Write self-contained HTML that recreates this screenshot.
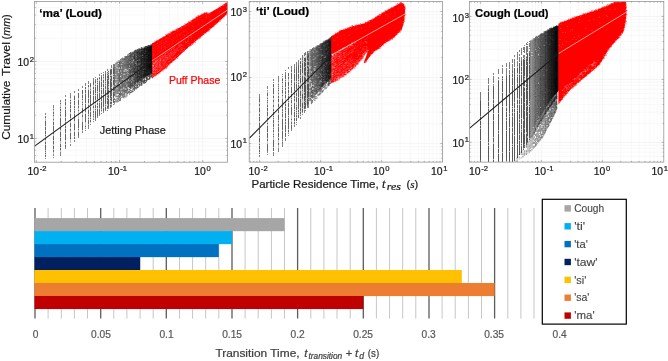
<!DOCTYPE html>
<html lang="en"><head><meta charset="utf-8"><title>Figure</title>
<style>html,body{margin:0;padding:0;background:#fff}body{width:668px;height:361px;overflow:hidden;font-family:"Liberation Sans", sans-serif}svg{display:block}</style></head>
<body>
<svg width="668" height="361" viewBox="0 0 668 361" font-family='"Liberation Sans", sans-serif'>
<defs>
<clipPath id="cp1"><rect x="34.6" y="1.5" width="192.8" height="160.7"/></clipPath>
<clipPath id="cp2"><rect x="249.2" y="1.5" width="193.3" height="160.6"/></clipPath>
<clipPath id="cp3"><rect x="469.4" y="1.5" width="194.4" height="160.6"/></clipPath>
</defs>
<path d="M61.3 1.5V162.2M76 1.5V162.2M86.4 1.5V162.2M94.5 1.5V162.2M101 1.5V162.2M106.6 1.5V162.2M111.4 1.5V162.2M115.7 1.5V162.2M144.5 1.5V162.2M159.2 1.5V162.2M169.6 1.5V162.2M177.7 1.5V162.2M184.2 1.5V162.2M189.8 1.5V162.2M194.6 1.5V162.2M198.9 1.5V162.2M34.6 155.5H227.4M34.6 150.3H227.4M34.6 145.9H227.4M34.6 141.9H227.4M34.6 115.2H227.4M34.6 101.7H227.4M34.6 92H227.4M34.6 84.6H227.4M34.6 78.5H227.4M34.6 73.3H227.4M34.6 68.9H227.4M34.6 64.9H227.4M34.6 38.2H227.4M34.6 24.7H227.4M34.6 15H227.4M34.6 7.6H227.4" stroke="#f7f7f7" stroke-width=".7" fill="none"/>
<path d="M36.3 1.5V162.2M119.5 1.5V162.2M202.7 1.5V162.2M34.6 138.4H227.4M34.6 61.4H227.4" stroke="#f1f1f1" stroke-width=".8" fill="none"/>
<g clip-path="url(#cp1)">
<linearGradient id="g1" gradientUnits="userSpaceOnUse" x1="103" y1="0" x2="152.6" y2="0"><stop offset="0" stop-color="#000" stop-opacity="0"/><stop offset=".55" stop-color="#000" stop-opacity="0.2"/><stop offset="1" stop-color="#000" stop-opacity="0.8"/></linearGradient>
<polygon points="103,73.9 106.8,71.2 110.6,68.1 114.4,65.1 118.3,62 122.1,59.3 125.9,56.8 129.7,54.2 133.5,52.2 137.3,50.4 141.2,48.9 145,47.7 148.8,46.5 152.6,45.2 152.6,72.7 148.8,75 145,77.6 141.2,80.2 137.3,82.9 133.5,85.8 129.7,88.8 125.9,91.7 122.1,94.6 118.3,97.2 114.4,99.8 110.6,102.9 106.8,105.9 103,109" fill="url(#g1)"/>
<path d="M45.5 117V157M53.5 108V154M60.5 102V152M65.5 99V147M70.5 97V143M74.5 95V139M78.5 93V136M82.5 90V131M85.5 87V128M88.5 85V126M90.5 84V123M93.5 82V120M95.5 81V118M97.5 79V116M99.5 78V114M101.5 77V112M103.5 75V111M105.5 74V110M107.5 73V108M108.5 71V107M110.5 70V106M111.5 69V105M113.5 68V103" stroke="#000" stroke-width="1" fill="none" opacity="0.24"/>
<path d="M45.5 113v1v1m0 1v1v1m0 3v1v1v1v1v1m0 1v1v1v1m0 1v1v1v1m0 1v1m0 3v1m0 2v1v1m0 1v1v1v1v1v1m0 1v1m0 1v1m0 1v1v1m0 1v1M53.5 105v1v1v1m0 1v1m0 2v1v1m0 1v1m0 3v1m0 2v1v1v1m0 1v1v1v1v1v1m0 1v1v1m0 2v1v1v1v1m0 1v1v1v1m0 2v1v1v1m0 1v1v1m0 2v1v1m0 1v1M60.5 100v1v1m0 1v1m0 3v1m0 1v1v1m0 1v1m0 1v1v1m0 2v1v1v1v1v1v1v1v1m0 1v1v1v1m0 2v1v1v1v1v1m0 1v1v1v1m0 3v1v1v1m0 1v1v1m0 2v1v1v1v1M65.5 95v1v1m0 2v1v1m0 1v1v1v1m0 2v1v1m0 1v1v1v1v1v1v1v1m0 1v1v1v1m0 1v1m0 1v1m0 1v1v1m0 1v1v1v1v1m0 1v1v1v1v1v1v1m0 2v1v1m0 1v1v1v1v1M70.5 93v1v1v1v1v1m0 2v1m0 1v1v1m0 1v1v1v1m0 1v1v1v1m0 2v1v1v1v1m0 1v1v1m0 2v1v1v1v1m0 2v1v1m0 2v1v1v1v1v1v1m0 5v1v1M74.5 91v1v1m0 3v1v1v1v1m0 1v1v1v1v1m0 1v1v1m0 1v1m0 1v1v1m0 1v1v1v1v1v1v1v1m0 3v1v1v1v1v1v1m0 2v1v1v1v1m0 1v1v1m0 1v1v1M78.5 89v1v1m0 2v1v1v1v1v1m0 2v1v1v1v1v1m0 1v1v1m0 2v1m0 3v1m0 4v1v1v1v1v1v1v1v1v1m0 1v1m0 2v1v1v1v1v1v1M82.5 86v1v1m0 2v1v1v1v1m0 1v1v1v1m0 1v1m0 2v1m0 1v1m0 3v1v1v1v1v1m0 2v1v1m0 5v1v1v1v1v1v1v1v1m0 1v1v1M85.5 83v1v1v1m0 1v1v1m0 1v1v1v1m0 1v1v1v1v1v1v1v1v1v1m0 1v1v1v1v1v1v1v1v1m0 2v1v1v1v1v1v1v1v1m0 4v1m0 1v1m0 1v1M88.5 81v1v1v1m0 1v1v1m0 3v1v1v1v1v1v1v1v1m0 1v1v1v1v1m0 2v1m0 1v1m0 2v1v1v1v1m0 1v1m0 2v1m0 1v1v1v1v1m0 1v1v1v1v1M90.5 83v1v1v1v1m0 2v1m0 1v1v1v1m0 1v1v1v1v1v1v1v1v1v1v1v1m0 1v1v1v1v1m0 1v1v1v1v1v1m0 1v1m0 1v1v1m0 2v1M93.5 78v1v1v1v1v1v1v1m0 2v1v1m0 1v1v1v1v1v1m0 1v1v1v1v1v1v1v1v1m0 2v1v1m0 3v1v1m0 1v1m0 1v1m0 2v1m0 1v1M95.5 77v1m0 1v1v1v1v1m0 2v1m0 1v1v1v1v1v1v1m0 1v1m0 1v1v1v1v1m0 2v1m0 2v1v1v1m0 1v1m0 1v1v1v1v1v1v1v1v1v1v1M97.5 78v1v1m0 1v1m0 1v1m0 1v1v1v1v1v1v1m0 1v1m0 1v1v1v1v1v1m0 1v1m0 2v1v1m0 1v1v1m0 1v1v1v1v1v1v1v1v1v1M99.5 74v1v1m0 1v1v1m0 2v1v1v1v1v1v1v1v1v1v1v1m0 1v1v1v1v1v1m0 1v1m0 1v1m0 1v1v1v1v1v1m0 1v1v1v1v1v1v1v1M101.5 73v1m0 1v1v1v1v1v1v1m0 1v1v1v1v1v1m0 1v1m0 1v1v1v1v1m0 1v1v1m0 1v1v1v1m0 1v1v1v1v1v1v1v1m0 1v1m0 2v1M103.5 72v1m0 1v1v1m0 1v1m0 2v1v1v1m0 1v1v1v1m0 1v1v1v1v1v1v1m0 1v1v1v1v1v1v1v1v1v1v1v1v1m0 1v1v1v1v1v1M105.5 71v1v1v1v1v1v1v1v1v1v1m0 1v1m0 1v1m0 1v1v1v1m0 1v1v1v1v1v1v1v1v1v1v1v1v1v1v1m0 1v1m0 1v1v1v1v1M107.5 69v1v1m0 1v1m0 1v1m0 1v1v1m0 1v1v1v1v1v1v1v1v1v1v1v1v1v1v1v1v1m0 1v1m0 1v1v1m0 1v1v1v1m0 2v1v1v1m0 1v1M108.5 71v1m0 1v1m0 1v1v1v1v1v1m0 1v1v1v1m0 1v1m0 2v1m0 1v1v1m0 1v1m0 1v1v1v1m0 1v1v1v1v1v1v1v1v1v1v1M110.5 69v1v1v1v1v1v1m0 1v1m0 2v1v1v1v1v1v1v1v1v1v1v1m0 1v1v1v1v1v1v1v1m0 1v1m0 2v1v1m0 1v1v1v1M111.5 65v1v1v1m0 1v1v1v1v1v1m0 2v1v1v1v1v1m0 1v1v1v1v1v1m0 1v1v1v1v1v1v1v1v1m0 1v1v1v1v1m0 1v1v1m0 1v1v1M113.5 64v1v1v1v1v1v1v1v1v1v1m0 1v1m0 1v1v1m0 1v1v1v1v1v1m0 2v1v1v1v1m0 1v1v1v1v1v1v1m0 1v1v1v1v1m0 1v1" stroke="#000" stroke-width="1" fill="none" opacity="0.48"/>
<path d="M114.5 64.3v1v.3v.3v.6v.3m0 .4v1v.1v.3m0 .1v1v.2v.8v1v.1v.1v.3v.7v.2v.1v.3v.9v.3v.5v.7m0 .5v1v.1v.7v.5v.7v.4v.1v.2v.3v.7v.8v.2m0 .3v1v.5v.5v.3v1v.6m0 .3v1v.6m0 .9v1v.4v.3m0 .7v1v.2v.7m0 .3v1v1v.2m0 2.5v1v.6m0 1v1v.7m0 .7v1M115.8 62.7v1v.7m0 .1v1m0 1v1v.6v.1v.3v.2v.3v.1v.3v.3v.3v.1m0 .3v1v.2v.4v.2v.8v.6v.4v.2m0 .9v1v.9v.4v.1v.1v.1m0 .2v1m0 .8v1v.6v.4v.6v.6m0 1.9v1v.6v.1v.5m0 .9v1v.2v.2v.1v.4v.4v.3v.5v.1v1v.5v.5v.6m0 .6v1m0 .4v1m0 2.5v1v.1m0 .1v1v1M117.1 61.6v1v.3v.3v.3v.5v.5m0 .9v1v.6v.1m0 1.3v1v.8v.5v.1v.2v.9v.2v.1v.5v.6v.4v.6v.5v.8v.1v.4m0 .6v1m0 .3v1m0 .7v1v.9m0 .9v1v1m0 .2v1v.1v.4v.5v.5v.6v.2v.2m0 .7v1v.7v.4v.1v.1v.4m0 .1v1v.6v.2v.4m0 2.1v1v.1m0 .8v1v.1m0 .5v1v.7v.7v.5M118.3 60.5v1m0 .4v1m0 1.1v1v.6v.3v.6v.1v.2v.3v.2v.2v.7m0 .5v1v.1m0 .8v1m0 1.3v1v.7m0 .1v1v.3v.1v.2v.1v.5v.9v.1v.6v.3v.2v.3v.1v.2v.4v.8v.8m0 .1v1v.4v.7v.9v.5v1v.2v.7m0 .2v1v.2v.3v.7v.1m0 .3v1v.8m0 .8v1v.5m0 1.2v1v.2v.2v1m0 .3v1m0 .1v1v.4m0 .5v1M119.5 60.5v1v.1v.1m0 .2v1v.1v.7v.5m0 .2v1v.3v.5v.2v.9m0 1.5v1v.9v.1v.6v.4v.8v.1m0 .6v1v.2v.3v.1m0 .2v1v.7v.2v.6v.8v.8v.9v.2v.7v.4v.1v.3v.1v.2v.3m0 1.9v1v.9v.4v.8v.3v.3v.4v.3v.6v.6v.8v.5v.4m0 1.3v1m0 .1v1m0 .5v1v.8v.1v.5m0 .6v1m0 .4v1M120.6 59.1v1v.1m0 .3v1v.4v.2v.1v.4v.2v.8v.4v.3m0 .3v1v.3v.2v.6v.2v1v.1v.7v.3v.3v1v.2m0 1v1v.2v.6v.2v.5v.1v.4v1v.2m0 1.5v1v.5v.6m0 .1v1v.3m0 .1v1v.9m0 .3v1m0 1.5v1v.5v.8v.8v.6m0 .5v1m0 .6v1v.9v.5v.4v.9v.2v.4v.7m0 .1v1m0 .4v1v.6v.7v.7M121.8 58.2v1v.4v.7m0 .4v1v.1v.7v.6v.1v.3v.1v.2v.1m0 .8v1v.2m0 .4v1m0 1.4v1v.8v.6v.1v.2v.3v.2v.8v.1v.4v.1m0 .8v1v.6v.6v.3v1v.6v.3v.5v.1v.2m0 .2v1v.9v.7v.3v.2v.7v.3m0 .1v1v.6v.3v1v.3v.2v.9v.7v.1m0 .7v1m0 .1v1m0 1.4v1v.9v.7v.2m0 1v1M122.8 57.6v1v.3m0 .2v1v.2m0 .4v1v.1m0 1.1v1v.8m0 .3v1v.6v.6v.6v.4m0 .1v1v.1v.2v.6m0 .2v1v.3v.5v.7v.4v.7v.1v.2m0 .2v1m0 .4v1m0 .1v1v.2v.4m0 1.4v1v.9m0 .3v1v.2v.1v.3v.1v.5v.4v.7v.3v.7v.8v.7v.3m0 .2v1m0 .5v1v.6m0 .6v1m0 .5v1v.9v.7v.2v1M123.9 58.3v1v.4v.9v.1v.4v.4v.1m0 .6v1v.4v.5v.2v.7v.3v.1v.1v.4v.1v.6v.7v.4v.8v.2v1v.1v1m0 .9v1v.7v.4m0 1v1v.3v.1v.2v.2v.1m0 .9v1m0 .2v1m0 .5v1m0 1.5v1v.1v.7v.1v.2v.9v.1v.6v.3v.3m0 1.8v1v.6v.9v.2v.7m0 .9v1v.5v1m0 .2v1v.4v.2v.6v.3M124.9 56.2v1v.3v.4m0 .2v1v1m0 .4v1v.1m0 .1v1v.1m0 .7v1v.2v.1v.3v1v.4v.1m0 .8v1v.1m0 3.2v1v.4v.2v.2m0 1.2v1v.3v.4v.2v.3v.4v.9v.4m0 1.1v1v.1v1v.1v.6v.3v.5v1m0 .3v1v.4v.1v.7v1v.8m0 .8v1v.1v.4v.4v.7v.2v.7v1v.2m0 .2v1v.2v.9v.2v.2v.2M125.9 56v1v.6v.9v.1v.3v.2v.3v.3v.4v.3v.1v.9m0 .2v1v.7v.3v.8v.5v.9v.2v.8v.5v.4v.6v.1v.3v.4m0 1.2v1m0 .3v1v.4v.2m0 .1v1v.3m0 .2v1m0 .6v1v.4v.5v.3m0 .5v1v.1v.2m0 .2v1v.4v.8m0 .9v1v.5v1m0 .2v1v.6v.1v.2m0 1.7v1v.7v.4v.2v.7m0 3.6v1M126.9 56v1v.1v.3v.3v.3v.5v.8m0 .2v1v.5v.7v.3m0 .1v1v.1v.3v.2v.7v.6v.2m0 .1v1v.1v.7v.1v.7m0 .6v1m0 2.1v1v.6v.1m0 .6v1v.2v.5v.1v.1v.9v.2m0 .9v1v.6v.3v.5v.5m0 1.3v1v.5v.4v.5m0 2.3v1v.2v.2v1v.1v.1v.7v.1m0 .3v1v.7v.7m0 .1v1v.1m0 .1v1v.4v.7v.3M127.8 54.3v1v.4v.1v.5v.1v.1m0 .1v1m0 .3v1v.4v.2m0 .8v1v.1v.4v.8v.1v.3v.4v.2m0 .3v1v.9v.2v.1v.1m0 .2v1v.3v.7v.4v.6v.5m0 .8v1v.2m0 1.5v1m0 1.8v1v.1m0 .1v1v.1v.1v.3v.1v.9v1v.2v.7v.4v.5v.6m0 .2v1v.1m0 .2v1v.9m0 2.1v1v.9v.6m0 .9v1v.8M128.7 53.6v1m0 1.2v1v.3m0 .2v1v.4m0 .2v1v.5v.9v.1v.9v.3v.3v.3v.1v.1v.4v.7v.3v.3v.2v.1v.3v1v.1v.3v.1v.4v.5m0 .5v1m0 .8v1v.2m0 .4v1m0 .8v1v.3v.6v.3v1v.3v.2v.8v.9m0 1.9v1v.1v.1v.5v.1v.3v.2v.3v.1v.1v.7m0 .3v1m0 .1v1m0 3.9v1v1M129.6 53v1v.2v.2m0 .4v1v.1v.6v.4v.2m0 .4v1v.3v.1v.6v.3m0 .3v1v.1v.2v.1v.1m0 1v1v.7v1v.2m0 1.4v1m0 1v1v.5v.1v.4v.2v.7v.8v.3v.3v.6v.4v.1m0 .4v1v.6v.7v.1m0 .6v1m0 .2v1v.9v.6m0 .6v1v.1v.3v.3m0 .1v1m0 .3v1v.7m0 .2v1m0 1v1m0 .5v1v.4v.3m0 .2v1m0 .2v1M130.5 52.2v1v.8v.6m0 .2v1v.6v.5m0 .2v1m0 .3v1m0 .4v1v.2m0 .5v1v.9v.3m0 .6v1v.8m0 .1v1v.1v.2v.3v.6v.3m0 .7v1v.2v.2v.6v.1v.5v.1v.6v.3v.5v.2v.1v.2m0 .3v1v.1v.8v.6v.3v.6v.4v.7m0 .4v1m0 .6v1v1v.5m0 .1v1v.4m0 .1v1v.7v.1v.6v.2v.2v1v.1v.4m0 .7v1m0 1.2v1M131.3 52.6v1m0 .1v1v.7v.3v.3v.8v.2v.2v.3v.4v.8v.2v.2v.7v.3m0 .2v1v.1v.3v.2v.2m0 .3v1v.4v1v.4v.1v.2m0 .1v1v.7v.1m0 .1v1m0 .4v1v.1v.1v.1v.2v.1v.9v.2v.6m0 .1v1m0 1.1v1v.3v.2v.2v.3v.1v.4v.6v.3m0 .4v1m0 .3v1v.9m0 1.5v1v.2v.7v.3v.8m0 .3v1m0 .4v1m0 1.8v1v.2m0 .3v1M132.2 51.8v1v.7m0 .1v1v.2v.7v.3m0 .1v1v.2m0 1.4v1v.5v.1v.8v.9m0 1.6v1v.2v.1v.3v.8v.2v.4v.2v.2v.1v.2v.1v.6v.3v.6m0 .4v1v.3v.2m0 .4v1v.4v.1m0 .1v1v.5v.1v.1m0 .3v1v.2v.8v.1v.1v.6m0 2.5v1v.2v.7m0 .2v1v.4m0 .1v1v.2v.5v.9v.5v.2m0 .1v1m0 1.7v1m0 .3v1v.5M133 51.8v1v.1m0 .2v1m0 .2v1m0 .6v1v.4v.2v.2v.2v.1v.4v.4m0 .3v1v.1m0 1.9v1v.2v.2v.8m0 .6v1v.3v.5m0 .2v1v.1v.9v.6v.5v.2v.1v.7v.5v.4v.3m0 .1v1m0 .8v1v.1v.4v1v.5v.2m0 .7v1v.1v.6v.1m0 1.7v1v.2v.1v.3m0 .3v1v.4v.4v.5v.6v.3m0 1.1v1v.2m0 .4v1m0 .6v1M133.8 51.3v1v.2v.2m0 .4v1v.4m0 .9v1v.8v.5v.2v.5v.7m0 2v1m0 .2v1m0 .2v1v.1v.4m0 .3v1v.4m0 .3v1v.2v.6v.7v.6v.9v.1v.4v.2v.1v.6v.6m0 1v1v.8v.1v.4v.1v.6v.1v.1v.2v.2v.1v.1v.1v.3m0 1v1m0 .2v1v.6v.1m0 .5v1m0 1.4v1v.6v.1v.1v.8m0 .4v1m0 .1v1M134.5 50.4v1v.1v.2v.2v.2v.5v.4v.1m0 .5v1v.5v.8v.7v.2v.3v1v.1v.5v.1v.8v.7v.4v.6v.2m0 .9v1v.7v.2v.5v.2v.3v.2v.3v.3v.5m0 1.2v1v.4v1v.4m0 .3v1v.4m0 .1v1v.2v.1v.4v.3v.4m0 1.8v1m0 .9v1v.8v.1v.2m0 .9v1v.7v.5m0 .5v1m0 .7v1v.9v1m0 .5v1v.6M135.3 50v1v.6v.5v.1v.4v.5m0 .5v1v.1v.4v.3m0 .4v1v.1v.5v.1m0 .1v1m0 .1v1v.2v.5v.1v.9m0 .1v1v.3m0 1.2v1v.8v.2v.1v1v.9v.3v.1v.3v.7m0 .8v1v.9v.3v.6v.3m0 .7v1v.9v.1v.1v.1v.5m0 .5v1v.3v.6v.1v.1m0 .2v1v.9v.5v1v.8v.1v.7m0 .2v1v.7m0 .7v1v.8M136 49.4v1v.6v.5v.1v.1v.2v.2v.8v.4v.3v.1v.4v.4m0 .7v1m0 1.4v1v.5v.3v.2v.3v.5v.5v.5m0 1.1v1m0 .7v1m0 .7v1v1v.1v.8v.6v.1v.4v.1m0 .4v1v.3v.2v.5v.7v.2m0 .3v1v.4v.9v.9v1v.6v.2v1m0 .3v1m0 .2v1m0 .2v1m0 1.4v1m0 1.1v1m0 .8v1M136.8 49.9v1v.1v.6v.8v1v.4v.5v.1v.5v.2v.2m0 .1v1m0 .6v1v.4v.1m0 .6v1v.1v.4v.2m0 .5v1v.3v.1v.1v.6m0 1.4v1v.3v.1v.4v.1v.8m0 .9v1v.3v.4v.3v.3v.8v.4v.8v.1v.1v.8v.3v.3m0 .3v1v.8v.2m0 .4v1v.2m0 .1v1v.7v.3v.3v.5v.7m0 2.2v1m0 .1v1v.7v.7v.4v1M137.5 49.2v1v.2v.5v.1v.2v.1m0 .6v1v.5v.6v.2m0 .5v1m0 .4v1v.2v.4m0 .2v1v.2v.8m0 1.1v1v.8v.2v.7v.2v.1v.3v1m0 .7v1v.1v.3v.4v.3v.3v.3v.8v.2v.1v1m0 1.3v1v.6v.1v.2v.3v.1v.9v.1v.2v.4v1m0 .1v1m0 .3v1v.4v.6v1v.6v.6v.5m0 .2v1m0 .7v1v.4m0 .4v1M138.2 48.8v1v.6v.1m0 .3v1v.3v.9v.1m0 .2v1v.7v.7v.1v.7v.1v.1v1v.5v.5v.4v.7m0 .5v1v.1v.4v.6v.2v.6v.7m0 1v1v.5v.5v.8v.3v.2v.9v.1v.5v.1v.5v.4v.3m0 .4v1m0 .2v1v.8v.8v.2m0 .6v1v.4v.2v.3v.7m0 .5v1v.5v.6v.6m0 .1v1m0 .4v1v.9m0 1.6v1M138.9 48.4v1v.7v.1v.1v.7v.1v.2v.1v.1v.3v.1v.1v.3v.1v.1v.3m0 .2v1v.7m0 .8v1v.2v.7v.3v.1m0 .2v1v.4v.9v.1v.8v.7v.4v.8v.2m0 1v1v.3v.2v.7v.1v.2v.3m0 2.1v1v.9m0 .3v1m0 .6v1v.1v.2v1v.8v.2v.3v.6m0 .3v1v.2v.2v.1v.9v.2v.4m0 .3v1m0 1.6v1m0 1.4v1M139.6 48.4v1v.4v.1v.1v.5v.4v.3v.3m0 .6v1v.9v.5v.1v.2v.1v1v.3m0 .6v1v.7v.1v.1m0 2.5v1v.4v.5v.2v.3v.1m0 1.1v1v.2v.1v.5v.1v.3v.3v.8v.3v.6m0 1.8v1v.9v.5v.8v.6v.3m0 1.1v1v.7v.5v.4v.2v.5m0 .3v1m0 1.5v1m0 .5v1v.7v.9M140.2 48.9v1v.3v.1v.5m0 1v1v.1m0 .3v1v1v.2m0 1v1v.3v.9v.5v.1v.4v.9v.3v.6v.1v.4v.6m0 1.8v1v.3v1v.1v.1v.4m0 .1v1v.2v.9v.7v.1v.2v.2v.5v.7v.1v.5v1v.1v.5v.8v.1m0 .1v1v.5m0 .6v1v.3m0 .8v1m0 .5v1v.5v.2v.7m0 .5v1v.2v.4v.6M140.9 47.7v1m0 .3v1m0 1.1v1v.1m0 .1v1v.2v.4v.5v.6m0 .1v1v.2v.1v.8v.5v.2v.4v.4v.1m0 .1v1v.7v.7v.2v.8v.7v.2v.7v.1v.9v.3v.9v.4v.6v.4v.8v.9v.2m0 .8v1v.2v.4v.2v.1v.6v.7m0 .2v1v.3m0 .1v1v.6v.6v.2v1m0 .2v1v.5v.1v.9v.4v.2m0 .8v1M141.5 47.3v1v.1v.1v.3v1v.5v.2m0 .3v1m0 .1v1v.7v.2v.2v.1v.1v.6v.3v.4v1v.2m0 .2v1v.1m0 .1v1v.6v.4v.7m0 .1v1v.1v.6v.6v.2v.4v.9v.6v.1v.3m0 1.2v1v.5v.4v.4v1m0 .4v1v.1v.3v.6v.1v.1m0 .7v1m0 .1v1m0 .1v1m0 .3v1v.2m0 1.6v1v.8v.6m0 .5v1v.3v.8v.9M142.1 47.3v1v.1v.1m0 .4v1m0 .7v1v.3v.7v.6v1v.4v.2m0 1.2v1v.2m0 .4v1v.1v.2v.3v.5m0 .3v1v.4m0 .9v1v.7v.2v.1v.1m0 .1v1v.3v.1v.1v.4v.2v.4v1v.4v.2v.2v.3v.5m0 .5v1m0 .5v1v.4m0 .1v1v.3m0 1.1v1v.6v.5v.9v.5v.4v1v.1v.3v.1v.8v.3v.8v1m0 .6v1M142.8 47.9v1v.2v.4m0 .2v1v.3v.9v.4v.2v.3m0 .4v1v1m0 .8v1m0 .6v1v.4v.6v.4v.3v.4v.1v.5v1v.6v.2v.2v.4v.5v.1v.5m0 .9v1v.2v.1v.1v.5v.3v.3v.3v.2v.2v.8v1v.1v.3m0 .2v1v.2m0 1.1v1v.8m0 .1v1v.3m0 2.6v1v.3v.2v.3v.6M143.4 48.6v1v.7m0 .6v1v.2v.4v.6v.3v.1v.9v.9m0 .2v1v.7v.3v.9v.5v.7v.1v.1v.5v.4m0 .2v1v.3v.4v.4v.3v.2v.4v.5v.6v.4v.3v.7v.2v.2v.2v.4m0 .8v1m0 .8v1v.1m0 1.3v1m0 .4v1v.6v.1v.4v.3v.2v.1v1v.7m0 .1v1v.1m0 1.1v1v.3v.8v1M144 46.7v1v.9v.7v1v.9v.1v.3v.3v.5v.3v.4v.6m0 .2v1v.2v.5v.6v.9v.1m0 .6v1v.1v.1v1v.5v.3v.7m0 .8v1m0 .2v1v.1v.1v.2m0 .9v1v.3v.1v.6v.7m0 1.3v1v.4v.3v.1v.2v.4v.2v.3v1m0 .7v1v.1v.9v.7m0 3.1v1m0 .1v1v.9M144.5 47.5v1v.1v.7v.2v.1v.5v.2v.9v.8v.8m0 1.1v1v.5v.7v.1v.2v.4v.5v.2v.3v.2v.6m0 .2v1v1v.6v.5v.2m0 .8v1v.2v.3v.2v1v.6v.3v1v.4v.2m0 .6v1v.9v.9v.3m0 .4v1v.3v.2v.6v1v.1v.7v.7v1v.4v.3v.3v.8v.9v1v.5m0 .6v1M145.1 46.4v1v.8v.8v.1v.1v.1v.6v.8v.5v.2v.2v.2v.1v.6v.6m0 .4v1v.2v.1v.7v.4v.2m0 .4v1v.4v.1v.1v.9v1v1v.7m0 .5v1v.2v.2v.6v.3v.2v.3v.9v.2v.1m0 1.2v1v.2v.1v.1m0 .8v1v.4v.1v.9m0 .2v1v.4v.4v.8v.5v.3v.4m0 4.4v1m0 .7v1v.1M145.7 46v1v.9v.5v.1v.4v1m0 2.4v1v.4v.1v.7v1v.5v.4v.2v.1m0 .6v1v.2v.7v.1v.3m0 .2v1v.1v.4v.5v.2m0 .2v1v.3v.5m0 .2v1m0 .1v1v.1v.6v.4v.4v.4v.3v.2v.2v.4v.1m0 .4v1v.2v.2v.1v.6v.5v.1v.9v.8v.6v.8v.9m0 .7v1m0 1.9v1m0 .8v1M146.3 46.1v1v.1v.1v.7v.4m0 .4v1v.9v.3v.2v.6v.9v.4v.1v.9v.7v.2m0 .8v1v.7v.2m0 1.1v1v.6v.1v.2m0 .1v1v.8m0 .3v1m0 .3v1v.4v1v.5v.9v.7v.3v.9v.1v.1v.6v.6v.1v.1v.2v.1v.7m0 1v1v.1v.6v.5v.8v1v.3v.2v.8v.9m0 .1v1m0 .2v1M146.8 45.8v1m0 1.2v1v.5v.1v.6v.1v.3v.8v.2m0 .5v1v.2v.1v.5v.2v.8v.1m0 .1v1v.5v.2v.3v.2v.1m0 .7v1v.3v.2v.3v.8m0 .3v1v.6v.2v.3v.3v.1m0 .3v1v1m0 .4v1v.4v.3v.3v.1m0 .8v1m0 .3v1v.3v.4v.1v.1v.1v.4v.1m0 .8v1v.8v.3m0 1.6v1v1m0 .7v1M147.3 46v1v.1v1v.5v1m0 .2v1v.4v.5v.1v.7v1v.5v.2v.4v.1v.2v.3m0 .8v1v.9v.6v.3m0 .1v1v.4v.8v.8v.5m0 .5v1v1v1v.4v.5v.8v.7v.3v.9v.9v.1v.4v.8v.1v.2m0 .3v1v.1v.7v.5v.9m0 .4v1v.6v1v.7v.1v.2v.2v.5M147.9 45.4v1v.5v.2v.7v.4v.1v.9v.7m0 .1v1v.4v.8v.2v.5v.4v.4v.2v.1v.7v.7v.7v.4v.4v.2v.9m0 .5v1v.4v.2v.3v.6v.5m0 1v1v.2v.3v.3v.4v.3v.6v.1v.6v.3v.9v.9v.1v.2v1v.3m0 .6v1m0 1.3v1v.1v.9m0 .1v1v.1m0 2.5v1M148.4 45.3v1v.1m0 .6v1v.6m0 .4v1v.8m0 .2v1m0 .2v1m0 .8v1v.5v.7v.1v.7m0 .2v1v.5v.3v.4v.1v.1v.5v1v.4v.3v.2v.5v.1v.1v.9v.2m0 .3v1v.3v.5v.5v.9v.1v.4v.4v.1v.6v.5m0 .9v1m0 .4v1v.1v.7v.6v.5v.5v.2v.1m0 .6v1m0 1.8v1M148.9 45.1v1v.1v.8m0 .2v1v.3m0 .1v1v.1v.1v.2v.2v.2v.3v.5v.1v.1v.5v.6v.4v.4m0 .6v1m0 .2v1m0 1.2v1v.2v.9v.1v.9m0 .1v1v1v.7v.2v.2m0 .6v1v.2v.5v.3v.4v.4v.5v.1v.5v.3v1v.4v.1m0 .4v1v.8v.1m0 1.1v1m0 .5v1m0 2.9v1M149.4 45v1v.2v.5m0 .5v1v.5v.9v.9v.6v.4v.2v.5v.9v.2v.1v.7v.6v.1v.2v.2v.3v.2v.1v.2v.7v.5v.6v.3v.1v.9v.6v.2v.9v.8v.4m0 1.4v1v.1v.6v.2v.9v1v.8v1v.2m0 .4v1v.1m0 1.6v1v.5m0 .6v1v.6m0 .1v1v.6v.4v.4v.7v.1M149.9 46.5v1v.4v.7v.1v.5v.1m0 .1v1v.6v.1v.4v.3v.2v.1v.1v.4m0 .7v1v.5v.1v.6v.5v.6m0 .3v1v.1v.3v.2v.6m0 .4v1m0 .3v1m0 1.2v1v.3v.1v.8v.3m0 .5v1v.6v.4v.3m0 .3v1v.5v.3m0 .1v1v.1v.4m0 1.1v1v.2v.2v.4v.8v.9m0 .6v1v.7v.3M150.4 45v1v.1v.1v.6v.8v.1v.5m0 .2v1v.1m0 .2v1v.2v.3v.7v.1v.1v.3m0 .2v1v.1v.3v.2m0 1.2v1v.7v.6v.9v.3v.6v.8v.6v.7v.5m0 .2v1v.8v.3v.4v.3v.4v.7v.1v.2v.4v.6v.6v.3v.6v.4v.1v.6v.1m0 1.4v1m0 1.7v1m0 .5v1v.2v.6M150.9 44.3v1m0 .8v1v.3v.7v.5v.3m0 .1v1v.5v.7v.3v.1v.2v.9v.1m0 .2v1v.7v.3v.3v.1v.6v1v.2v.7v.3m0 .9v1v.4v.4m0 .4v1v.1v.8v.8v.2v.1v.5v.1v.7v.1v1v.2v.7v.7m0 .9v1m0 .3v1v.9v.1v.7v.1m0 .1v1v.4v.2v.1v.1M151.4 44.2v1v.2v.2v.2v.5v.7v.9v.6v.1v.8v.3v.5v.1m0 .2v1m0 .7v1v.5v.5v.5v.2v.2v.9v.2v.3v.8v.1v.4v.5v.8v.3v.1v.3v.4v.6v.7v.2v.5m0 2v1v.3v.3v1m0 .1v1v.5v1v.4v.3m0 .3v1v.4v.2v.6m0 .7v1m0 .9v1v.4v.2v.6M151.9 45.1v1v.8v.1v.1v.1v.6v.3v.1m0 .3v1v.8v.4v.1v.7m0 .3v1m0 .2v1v.3m0 .4v1v.2v.4v.3v.3v.2v.4v.1v.3v.1v.2v.9v.4m0 .8v1v.1v.8v.4v.3v.2m0 .2v1m0 1.4v1v.2m0 .6v1m0 .2v1m0 .6v1v.6v.1v.9v1v.6v.5v.5v.2v.2v.2v.1v1M152.4 44v1v.1v1v.1v.1v1v.1v.2v.8v.1v.3v.7v.2m0 3v1v.2v.1v.1v.3v.1v.5v.4v.5v.7v.7v.3v.3v.8v.3m0 1v1m0 .4v1v.7v.6v.5v1v.4v.3v.6v.6v.1v.4v.4m0 1v1v.2v.9v.1v.1v.6v.2m0 .1v1v.3v.8m0 .6v1m0 .3v1v.9v.1" stroke="#000" stroke-width="0.9" fill="none" opacity="0.72"/>
<polygon points="152,43.5 161,38.2 171.6,31.8 182.1,26.2 192.6,19.8 199,15.8 204,13.2 206.5,12.2 208.5,13.6 217.2,8.6 227.6,2.3 229,1.6 229,13 227.6,13.6 222,18.8 217.2,23.3 211,28.7 200.5,37.3 190,45.8 179.5,55.5 169,65 162.7,70.6 152,78.3" fill="#f00"/>
<path d="M152.4 42.9v.6M154.5 40.8v.6M155.3 75.8v.6M156 40.7v.6M156.3 75.3v.6M156.8 39.7v.6M157.2 40v.6M158.3 73.9v.6M158.9 38.7v.6M159 73v.6M160 73.1v.6M160.4 38.2v.6M163.1 70.9v.6M163.3 36.1v.6M163.5 69.8v.6M164.7 69.3v.6M165.5 67.9v.6M165.8 34.3v.6M166 67.8v.6M166.2 34.5v.6M166.3 33.8v.6M166.4 67.7v.6M166.4 68.1v.6M166.8 67v.6M167.1 66.9v.6M167.3 66.6v.6M167.6 66.2v.6M167.9 33.4v.6M168.6 33.3v.6M169.1 65.4v.6M170.2 31.6v.6M171.2 31v.6M171.7 62.3v.6M172.6 61.8v.6M172.8 30.3v.6M174.4 60.5v.6M174.9 59.6v.6M175.1 29v.6M175.2 59.4v.6M177 28.5v.6M177 57.7v.6M177.1 28.4v.6M177.5 58.1v.6M177.9 57.5v.6M178.2 56.5v.6M181.6 26.2v.6M181.7 26.1v.6M181.7 26.1v.6M183.7 51.4v.6M184 51.5v.6M184.6 23.6v.6M185.3 23.7v.6M187.6 47.8v.6M188.5 21.2v.6M188.8 21.1v.6M189.7 45.8v.6M190.2 45.9v.6M190.5 45.3v.6M190.7 20.4v.6M191.1 45.3v.6M191.3 45.2v.6M192.4 44.2v.6M192.5 43.5v.6M192.6 19.5v.6M192.6 44.2v.6M192.8 18.6v.6M193.4 42.8v.6M193.4 42.8v.6M194.1 18.5v.6M194.2 18.2v.6M194.4 42.4v.6M195.3 42.1v.6M195.6 41.8v.6M195.8 17.4v.6M196.2 16.4v.6M196.2 17.1v.6M196.4 17.1v.6M196.7 16.4v.6M197.9 15.4v.6M197.9 16.1v.6M198.1 15.2v.6M198.7 15.1v.6M199.1 38.5v.6M199.3 38.6v.6M200 38.1v.6M200.4 14.7v.6M200.4 37.5v.6M201 37.3v.6M201.5 13.6v.6M202.8 13.5v.6M203.7 34.4v.6M204.3 12.5v.6M204.4 12.4v.6M205.8 33.4v.6M207.4 12.1v.6M207.9 31.1v.6M208.4 13v.6M208.9 31.1v.6M209 12.4v.6M209.4 30.1v.6M213.7 26.2v.6M214.2 26.5v.6M216.6 23.6v.6M217.9 22.5v.6M218.9 6.6v.6M219.6 20.9v.6M220.2 21.2v.6M220.3 20.5v.6M220.6 5.7v.6M223.1 4v.6M223.1 18.3v.6M223.8 3.8v.6M224.1 16.8v.6M224.2 4.1v.6M224.3 16.3v.6M225.3 3.2v.6M225.3 3.2v.6M225.3 3.3v.6M226 2.2v.6M226.3 2.6v.6M227.3 13.8v.6M227.4 14.3v.6M228.7 1.1v.6M229 8.7v.6M229.2 8v.6M229.5 4.2v.6M229.5 6v.6M229.6 1.7v.6M229.6 3.8v.6M229.8 7.4v.6" stroke="#f00" stroke-width="0.7" fill="none" opacity="0.8"/>
<path d="M152.4 76.5v.5M153.3 76.3v.5M153.7 42.4v.5M154.1 42.1v.5M154.8 75.7v.5M155.8 74.7v.5M158.2 40.4v.5M161 37.9v.5M161.9 70.4v.5M163.3 69.5v.5M163.9 69v.5M164.2 36.2v.5M164.6 36.4v.5M165.2 35.8v.5M166.7 34.5v.5M166.9 65.1v.5M166.9 65.7v.5M168.4 64.7v.5M168.6 34.4v.5M169.1 33.7v.5M169.9 63.7v.5M170 33v.5M170 63.2v.5M170.4 33.3v.5M170.9 62.8v.5M171.4 31.9v.5M172.5 61.3v.5M174.6 30.1v.5M174.9 30v.5M175 58.2v.5M175.1 30.4v.5M175.5 30.3v.5M175.9 29.4v.5M176.7 29.7v.5M177.5 29.1v.5M181 53.5v.5M181.2 26.9v.5M181.3 27.2v.5M181.8 26.1v.5M184.7 25.5v.5M184.9 24.4v.5M185.2 49.6v.5M185.8 24.9v.5M187.9 23.2v.5M188.2 22.2v.5M188.5 46.9v.5M189.2 46.2v.5M190.3 21.2v.5M190.3 21.3v.5M191 21.7v.5M194.5 41.8v.5M194.6 40.6v.5M194.9 18.3v.5M195.4 18.5v.5M196 39.4v.5M198.8 38.4v.5M199.2 37.5v.5M199.8 15.3v.5M200.6 14.8v.5M201.3 36.1v.5M204.2 33.8v.5M204.3 33.6v.5M204.6 33v.5M205.3 33v.5M207.3 13v.5M207.3 13.1v.5M209 13.8v.5M209.9 29.3v.5M210 28.1v.5M210.2 13.4v.5M210.2 28.4v.5M212.4 11.2v.5M214.2 25.5v.5M214.9 9.7v.5M214.9 23.8v.5M216.1 23.4v.5M217.2 8.3v.5M217.3 8.8v.5M219.6 20.7v.5M219.9 20.1v.5M220.7 7v.5M223.2 4.9v.5M223.5 5.2v.5M225.8 3.7v.5M226.9 13.3v.5M227.2 13.6v.5M228.3 2.6v.5M228.3 3.4v.5M228.3 4.5v.5M228.3 5.1v.5M228.5 13.4v.5M228.6 11.1v.5M228.7 5.9v.5" stroke="#fff" stroke-width="0.6" fill="none" opacity="0.6"/>
<path d="M153 65.1v.6M153 67v.6M153 71.9v.6M153 74.7v.6M153 74.9v.6M153.1 65.2v.6M153.1 65.4v.6M153.1 65.5v.6M153.1 66.5v.6M153.1 67.8v.6M153.1 71.6v.6M153.2 70.3v.6M153.2 70.4v.6M153.3 65.2v.6M153.3 65.5v.6M153.3 66.3v.6M153.4 62.4v.6M153.5 68.7v.6M153.6 64.4v.6M153.6 65.8v.6M153.7 63.1v.6M153.7 63.3v.6M153.8 62.7v.6M153.8 65.2v.6M153.8 68.2v.6M153.8 68.8v.6M153.8 72.1v.6M153.9 68.1v.6M154 69.3v.6M154 70.1v.6M154 71.9v.6M154.1 72.1v.6M154.2 74.6v.6M154.3 63v.6M154.4 69v.6M154.5 63.2v.6M154.7 67.4v.6M154.8 62.6v.6M155.3 72.1v.6M155.4 61.6v.6M155.4 61.9v.6M155.6 69.5v.6M155.7 67.4v.6M155.7 70.2v.6M155.9 66.4v.6M156 60.2v.6M156.2 62v.6M156.2 72.7v.6M156.3 64.9v.6M156.4 61.2v.6M156.4 69v.6M156.5 66.3v.6M156.6 61.2v.6M156.8 63.9v.6M156.9 62.3v.6M156.9 64v.6M157 66.3v.6M157.1 69.7v.6M157.2 59.9v.6M157.5 60.2v.6M157.5 63.2v.6M157.7 70.9v.6M158 66.7v.6M158.3 59.1v.6M158.3 61.5v.6M158.6 71.5v.6M158.8 71.4v.6M158.9 62.9v.6M159 60.8v.6M159 66.7v.6M159 69.7v.6M159.4 64.2v.6M159.5 63.9v.6M159.6 62.4v.6M159.6 65.6v.6M159.7 58.1v.6M159.8 61.6v.6M159.9 60.5v.6M159.9 65.3v.6M160 67.5v.6M160 70v.6M160.5 59.2v.6M160.5 60v.6M160.7 59.2v.6M160.8 65.4v.6M160.9 58.5v.6M160.9 60.4v.6M161.4 67.5v.6M161.8 56.2v.6M161.8 66.8v.6M162 66.8v.6M162 68.7v.6M162.2 57.2v.6M163.1 62.7v.6M163.3 60.5v.6M163.4 59.2v.6M163.6 56.1v.6M163.7 60.4v.6M164.9 54.8v.6M165.4 62.4v.6M165.6 53.3v.6M165.6 56.8v.6M166.1 59.6v.6M167 57.3v.6M167.2 57v.6M167.2 57.3v.6M167.3 55v.6M167.4 64v.6M167.7 58.5v.6M168 52.6v.6M168 58.7v.6M168.1 53v.6M168.3 61.4v.6M169.7 55.6v.6M170.5 57.7v.6M170.6 52.1v.6M170.7 52.6v.6M171.3 50.7v.6M171.5 49.7v.6M171.6 59.7v.6M171.7 58v.6M171.8 53.8v.6M171.9 53.5v.6M173.7 48.7v.6M174.2 48.7v.6M174.8 56.8v.6M175.1 52.6v.6M175.7 52.3v.6M176 49.8v.6M176.8 50.1v.6M177.1 47.9v.6M177.3 49.4v.6M177.4 55.1v.6M178.8 45.6v.6M178.8 54.1v.6M179.7 44.9v.6M179.8 45.4v.6M180.1 44v.6M180.1 46.4v.6M180.3 50.7v.6M181 44.1v.6M181 51.1v.6M181.3 47.5v.6M181.4 43.8v.6M181.4 48.8v.6M181.7 49.3v.6M181.8 45v.6M181.9 44.8v.6M182.3 50.9v.6M182.8 48.7v.6M183 41.7v.6M183.1 45.5v.6M183.1 50.1v.6M183.4 51.6v.6M184.2 48.2v.6M185.4 40.9v.6M185.4 42v.6M186.4 42.3v.6M186.7 41.7v.6M187.8 41.1v.6M188 40.9v.6M188 43.6v.6M188.2 45.1v.6M188.5 37.7v.6M188.5 39.6v.6M189.1 43v.6M190.9 37.4v.6M191.5 39v.6M191.8 35.8v.6M191.9 43v.6" stroke="#fff" stroke-width="0.55" fill="none" opacity="0.55"/>
<path d="M153 55.4v.6M154 54.4v.6M157.2 43.2v.6M158.5 46.5v.6M160.4 51.2v.6M161 41.9v.6M161.4 47.6v.6M164.4 42.8v.6M164.6 46.6v.6M165.8 47.1v.6M166 37.8v.6M166.5 41v.6M176.5 34.6v.6M180.2 34.5v.6M183.5 31v.6M185.1 35.1v.6M191.1 21.6v.6M192.1 25.7v.6M192.9 26.2v.6M192.9 30.6v.6M198.3 23.7v.6M201.2 24.8v.6M202.1 20.7v.6M205.9 16.7v.6M206.4 17.2v.6M206.7 15.3v.6M209 16.1v.6M210.7 19.2v.6M219.3 11.3v.6M224.9 5.2v.6" stroke="#fff" stroke-width="0.55" fill="none" opacity="0.4"/>
<path d="M152.6 62.5L175.5 46.6M152.6 64.2L166.2 54.6M152.6 65.9L179.8 46.5M152.6 67.6L175.7 50.9M152.6 69.2L182.4 47.4M152.6 70.9L175.2 54.1M152.6 72.6L165.6 62.8M152.6 74.3L176 56.4M152.6 76L167.3 64.6" stroke="#fff" stroke-width="0.45" fill="none" opacity="0.55" stroke-dasharray="1.2 .7 .6 .5 2 .6"/>
<path d="M153 46L208.1 12.9M153 48.8L170.3 38.1M153 51.5L187.6 29.4M153 54.2L174.2 40.3M153 57L193.2 29.8" stroke="#fff" stroke-width="0.4" fill="none" opacity="0.3" stroke-dasharray="2 1 1 .6"/>
<path d="M34.6 146.1L152.3 60.6" stroke="#1a1a1a" stroke-width="1.05" fill="none" opacity="1.0"/>
<path d="M152.3 60.6L227.5 10" stroke="#fff" stroke-width="0.7" fill="none" opacity="0.85"/>
</g>
<path d="M36.3 162.2v-2.2M36.3 1.5v2.2M61.3 162.2v-1.2M61.3 1.5v1.2M76 162.2v-1.2M76 1.5v1.2M86.4 162.2v-1.2M86.4 1.5v1.2M94.5 162.2v-1.2M94.5 1.5v1.2M101 162.2v-1.2M101 1.5v1.2M106.6 162.2v-1.2M106.6 1.5v1.2M111.4 162.2v-1.2M111.4 1.5v1.2M115.7 162.2v-1.2M115.7 1.5v1.2M119.5 162.2v-2.2M119.5 1.5v2.2M144.5 162.2v-1.2M144.5 1.5v1.2M159.2 162.2v-1.2M159.2 1.5v1.2M169.6 162.2v-1.2M169.6 1.5v1.2M177.7 162.2v-1.2M177.7 1.5v1.2M184.2 162.2v-1.2M184.2 1.5v1.2M189.8 162.2v-1.2M189.8 1.5v1.2M194.6 162.2v-1.2M194.6 1.5v1.2M198.9 162.2v-1.2M198.9 1.5v1.2M202.7 162.2v-2.2M202.7 1.5v2.2M34.6 155.5h1.2M227.4 155.5h-1.2M34.6 150.3h1.2M227.4 150.3h-1.2M34.6 145.9h1.2M227.4 145.9h-1.2M34.6 141.9h1.2M227.4 141.9h-1.2M34.6 138.4h2.2M227.4 138.4h-2.2M34.6 115.2h1.2M227.4 115.2h-1.2M34.6 101.7h1.2M227.4 101.7h-1.2M34.6 92h1.2M227.4 92h-1.2M34.6 84.6h1.2M227.4 84.6h-1.2M34.6 78.5h1.2M227.4 78.5h-1.2M34.6 73.3h1.2M227.4 73.3h-1.2M34.6 68.9h1.2M227.4 68.9h-1.2M34.6 64.9h1.2M227.4 64.9h-1.2M34.6 61.4h2.2M227.4 61.4h-2.2M34.6 38.2h1.2M227.4 38.2h-1.2M34.6 24.7h1.2M227.4 24.7h-1.2M34.6 15h1.2M227.4 15h-1.2M34.6 7.6h1.2M227.4 7.6h-1.2" stroke="#8a8a8a" stroke-width=".6" fill="none"/>
<rect x="34.6" y="1.5" width="192.8" height="160.7" fill="none" stroke="#8e8e8e" stroke-width=".75"/>
<path d="M250.3 1.5V162.1M253.8 1.5V162.1M256.9 1.5V162.1M278.1 1.5V162.1M288.8 1.5V162.1M296.4 1.5V162.1M302.3 1.5V162.1M307.2 1.5V162.1M311.3 1.5V162.1M314.8 1.5V162.1M317.9 1.5V162.1M339.1 1.5V162.1M349.8 1.5V162.1M357.4 1.5V162.1M363.3 1.5V162.1M368.2 1.5V162.1M372.3 1.5V162.1M375.8 1.5V162.1M378.9 1.5V162.1M400.1 1.5V162.1M410.8 1.5V162.1M418.4 1.5V162.1M424.3 1.5V162.1M429.2 1.5V162.1M433.3 1.5V162.1M436.8 1.5V162.1M439.9 1.5V162.1M249.2 158.2H442.5M249.2 153.8H442.5M249.2 150H442.5M249.2 146.6H442.5M249.2 123.7H442.5M249.2 112.1H442.5M249.2 103.9H442.5M249.2 97.5H442.5M249.2 92.2H442.5M249.2 87.8H442.5M249.2 84H442.5M249.2 80.6H442.5M249.2 57.7H442.5M249.2 46.1H442.5M249.2 37.9H442.5M249.2 31.5H442.5M249.2 26.2H442.5M249.2 21.8H442.5M249.2 18H442.5M249.2 14.6H442.5" stroke="#f7f7f7" stroke-width=".7" fill="none"/>
<path d="M259.7 1.5V162.1M320.7 1.5V162.1M381.7 1.5V162.1M249.2 143.6H442.5M249.2 77.6H442.5M249.2 11.6H442.5" stroke="#f1f1f1" stroke-width=".8" fill="none"/>
<g clip-path="url(#cp2)">
<linearGradient id="g2" gradientUnits="userSpaceOnUse" x1="296" y1="0" x2="331.8" y2="0"><stop offset="0" stop-color="#000" stop-opacity="0"/><stop offset=".55" stop-color="#000" stop-opacity="0.28"/><stop offset="1" stop-color="#000" stop-opacity="0.72"/></linearGradient>
<polygon points="296,64 298.8,61.5 301.5,57.8 304.3,54.7 307,52.7 309.8,50.9 312.5,49.2 315.3,47.6 318,45.9 320.8,44.3 323.5,42.6 326.3,41 329,39.3 331.8,37.5 331.8,77.5 329,80.1 326.3,82.9 323.5,85.6 320.8,88.7 318,91.9 315.3,95.1 312.5,98.1 309.8,101.1 307,104.5 304.3,108.1 301.5,111.9 298.8,116.7 296,121" fill="url(#g2)"/>
<path d="M259.5 99V154M267.5 91V151M273.5 84V151M278.5 82V148M282.5 79V143M285.5 75V137M288.5 73V133M291.5 70V129M294.5 69V125M296.5 67V121M298.5 65V118M300.5 62V115M302.5 60V112M304.5 58V110M305.5 57V108M307.5 56V106M308.5 55V104" stroke="#000" stroke-width="1" fill="none" opacity="0.24"/>
<path d="M259.5 94v1v1v1v1v1v1v1v1m0 2v1v1m0 2v1v1v1v1m0 2v1v1m0 1v1v1v1v1m0 2v1v1v1v1m0 1v1v1v1v1v1v1m0 2v1m0 1v1v1v1v1m0 2v1m0 1v1v1v1m0 1v1v1m0 1v1m0 1v1v1M267.5 86v1v1v1m0 1v1m0 2v1v1v1m0 2v1m0 1v1m0 1v1m0 2v1v1m0 1v1v1v1m0 1v1v1v1v1m0 2v1v1m0 3v1m0 2v1v1v1v1v1v1m0 1v1v1v1v1v1m0 1v1v1m0 3v1v1v1v1v1v1v1v1v1m0 1v1M273.5 79v1v1m0 1v1m0 1v1v1v1m0 1v1v1v1v1v1v1m0 2v1v1m0 2v1v1m0 3v1v1m0 2v1v1m0 1v1v1v1m0 1v1m0 1v1m0 1v1v1v1m0 1v1v1v1m0 1v1m0 1v1v1m0 2v1m0 1v1m0 3v1v1v1v1v1v1v1m0 1v1v1v1m0 1v1v1v1v1M278.5 76v1v1v1v1v1v1m0 2v1m0 1v1m0 1v1m0 1v1m0 2v1m0 2v1v1m0 1v1v1v1m0 2v1v1v1m0 1v1m0 1v1v1v1m0 2v1v1v1v1v1m0 1v1m0 2v1v1m0 1v1v1v1v1v1m0 1v1v1v1v1m0 1v1v1m0 3v1v1m0 3v1v1v1v1M282.5 74v1m0 1v1m0 1v1v1v1m0 1v1m0 3v1m0 1v1m0 1v1v1v1m0 2v1m0 3v1v1v1v1v1m0 1v1v1v1m0 1v1v1m0 1v1m0 1v1v1v1m0 2v1v1v1v1v1v1v1v1v1v1v1m0 1v1v1v1v1v1v1v1v1m0 1v1m0 1v1v1v1v1v1M285.5 70v1m0 1v1v1v1v1v1v1v1m0 1v1m0 1v1v1v1v1v1m0 1v1v1m0 1v1v1v1m0 1v1v1v1m0 3v1v1m0 1v1v1m0 1v1v1v1m0 1v1m0 1v1v1v1v1v1m0 1v1v1m0 1v1v1m0 1v1v1v1v1v1v1v1m0 1v1v1v1v1m0 1v1v1v1M288.5 67v1v1m0 4v1v1v1m0 1v1v1m0 3v1v1v1v1m0 1v1v1m0 1v1v1v1m0 1v1m0 1v1v1m0 1v1m0 1v1m0 1v1v1v1v1m0 1v1v1v1v1v1v1v1m0 1v1m0 1v1v1v1v1v1v1v1v1v1v1v1m0 1v1v1m0 1v1m0 1v1M291.5 66v1v1v1v1v1v1m0 1v1v1v1v1v1v1m0 1v1v1v1m0 1v1m0 2v1v1v1v1v1v1m0 1v1v1v1m0 1v1m0 1v1v1v1m0 2v1m0 1v1v1v1v1v1v1v1v1m0 4v1m0 2v1v1m0 1v1v1v1v1v1v1M294.5 64v1v1v1v1v1v1v1v1v1m0 1v1v1v1v1v1v1v1m0 1v1v1v1v1v1v1v1v1v1m0 2v1v1m0 1v1v1m0 1v1v1m0 2v1v1v1v1v1v1m0 1v1m0 1v1v1v1v1v1m0 1v1v1v1m0 1v1v1m0 1v1v1M296.5 62v1v1v1v1v1v1v1v1v1v1v1v1v1v1v1v1v1v1v1m0 1v1m0 1v1v1v1v1v1m0 2v1m0 1v1v1v1m0 1v1v1v1v1v1m0 3v1m0 1v1v1v1m0 1v1m0 1v1m0 1v1v1m0 1v1v1v1m0 1v1m0 1v1M298.5 60v1v1v1v1v1v1v1v1v1v1v1v1v1m0 1v1v1v1v1v1m0 1v1m0 2v1m0 1v1v1m0 1v1v1v1v1v1v1v1v1v1m0 1v1v1v1v1v1v1v1v1v1v1v1m0 1v1v1m0 1v1m0 1v1v1v1M300.5 58v1v1m0 1v1v1v1m0 1v1v1v1m0 1v1v1v1v1v1v1m0 1v1m0 1v1v1v1v1v1m0 3v1v1v1m0 2v1v1v1v1v1m0 1v1m0 1v1v1v1v1v1v1v1v1m0 1v1v1v1m0 1v1v1m0 1v1m0 1v1v1M302.5 55v1v1v1v1v1m0 1v1m0 1v1v1v1v1v1v1v1v1v1v1m0 3v1v1v1v1v1v1m0 1v1v1m0 1v1v1v1m0 1v1m0 3v1v1v1v1v1m0 4v1v1v1v1v1m0 1v1v1v1v1m0 1v1M304.5 53v1v1v1m0 2v1v1v1m0 1v1v1v1v1v1m0 1v1v1v1v1v1v1v1m0 2v1v1v1v1v1v1v1v1v1v1v1v1v1v1v1m0 1v1v1m0 1v1v1v1v1v1m0 1v1v1v1m0 1v1v1v1m0 1v1v1v1M305.5 52v1v1v1m0 3v1v1v1v1m0 1v1v1v1m0 1v1v1v1v1m0 1v1v1v1v1m0 2v1v1v1m0 1v1v1m0 1v1v1v1v1v1v1v1v1v1v1v1v1v1m0 1v1m0 1v1m0 1v1v1v1v1v1v1m0 1v1M307.5 51v1v1v1v1v1v1v1v1v1m0 2v1v1v1m0 1v1v1m0 2v1m0 1v1v1v1v1v1m0 1v1m0 1v1v1m0 2v1v1v1v1v1v1m0 1v1v1v1v1v1v1v1m0 1v1v1v1v1v1v1v1v1v1M308.5 51v1m0 1v1v1v1v1v1m0 1v1v1m0 1v1v1v1m0 2v1v1v1v1v1v1v1m0 1v1v1v1v1v1v1v1m0 2v1v1v1v1v1v1v1v1v1v1v1v1v1m0 1v1m0 1v1m0 1v1v1v1v1v1v1" stroke="#000" stroke-width="1" fill="none" opacity="0.48"/>
<path d="M310.1 49.3v1m0 .2v1v.4v.3v.2v.2v.1v.9v.1v.6v.5v.2v.2v1m0 .5v1v.7v1v.2v.2v.3v.2v.6m0 .6v1v.9v.2v.8v.5v.2v.4v.1v.3v.3v.1v.3m0 2v1v.4v.1v.1v.6v.5m0 .4v1v.2v.6v.2m0 .4v1v.8v.4v.3v.2v.2m0 .6v1m0 .4v1v.1m0 1.7v1v.7v.2v.1v.2v.5v.2v.2v.1v.8v.1v.7m0 1.5v1v1v.2m0 1.4v1v.8v.6v.4v.8v.7v.9m0 1v1v.6v.6v.3v.7M311.4 49.2v1v.9m0 .3v1v.1v.1v.1v.2m0 .4v1v.2v1v.8v.2v.8v.4v.3m0 .2v1v.7v.4m0 .3v1v.6v.2m0 .2v1v.2v.3v.6v.1v.8v.4m0 .6v1v.9v.9v.3v.9v.1v.5v.2m0 1.4v1v.4v.3v.1m0 .4v1v.9v.6v.5v.2v.1v.2m0 .2v1v.2v.3v.3v.7v.1m0 .8v1m0 4.2v1v.5v.2v.2v.1v.5v.6v.1m0 .3v1v.7v.6v.4m0 1.5v1v.6v.8v.3m0 1.7v1v.3v.7v.3v.4v.6v.4v.2v.8M312.6 48v1m0 .1v1v.6m0 .8v1v.1v.5v.1m0 .1v1v.5v.6v.7v.2v.7v.5v.4v.7v.7m0 .4v1v.2v.3v1v.1v.2v.7v.5v.6v.8v.7m0 .1v1v.6v.9v.1v.9v.7v.3v.3v.4v.2v.5m0 .2v1v.1v.1m0 .2v1m0 .6v1m0 .4v1v.4v.1m0 .7v1v.8v.5v.6v.9v.1v1m0 .3v1m0 1.2v1v.1v.2v.5m0 2v1v.9m0 .3v1v.2m0 .2v1m0 .3v1v.5m0 .1v1v1v.1m0 1.5v1m0 .2v1v.4v.2v.1M313.8 47.1v1v.2v1v.2m0 .2v1v.3m0 .3v1m0 .6v1v.3v.7v.5v.6v.2v.1v.1m0 .4v1v.5v.2v.4v.2m0 .6v1v.6v.8m0 .4v1v.2v.6m0 .1v1v.1v.6v.2v.9v.4v.6v.4m0 .8v1v.6v.7v.9v.1v.2v.5v.4v.5v.1v.5v.1m0 .4v1v.7v.1v.4v.1v.2v.8v.3v.1v.4v.8v.5v1m0 .9v1v.6v.3m0 1.8v1v.2v.7m0 1.2v1v.1v.9m0 .2v1m0 .4v1v.2v.2m0 1.1v1v.5v.7v.1m0 .8v1M314.9 47.7v1m0 1v1v.4v.9v.1v.8v.7m0 .1v1v.2v.2v.1v.6v.1v.1v.2v.3v.2v.2v.9v.4m0 1.1v1v.8v.2v.5v.8v.2v.1v.2v.4v.5v.1v.1v.4v.2v1v.2m0 1.2v1m0 2.9v1v.1v.8v.1m0 .1v1v.3m0 .5v1v.6v.2v.4v.4v.6v.2v.1v.1v.4v1m0 .3v1v.8v.9m0 .7v1v.3v.9v.6v.1m0 .3v1m0 .3v1v.4v.2v.4v.1v.3v.7v.2v.5m0 1.5v1m0 .2v1m0 .2v1v.2m0 .2v1m0 .1v1m0 .6v1M316 46.4v1v.3v.9v.3v.2v.6v.6v.2v.2m0 .5v1m0 .4v1v.3v.3v.4v.1v.2v.9v.1v.4v.1v.3v.1v.3v.2m0 .9v1v1v.5v.2v.1v.7v.4v.6v.1v.3v.1m0 .2v1v.1v.3v.5v.1v.5v.2m0 1.1v1v.9v.5v.4m0 .7v1v.7v.1v.6v.5m0 .6v1m0 1.2v1v.4v.8v.6v.1v.2v1v.1v.2v.3m0 1v1m0 .6v1v.4v.5v.3v1m0 1.1v1m0 .3v1v.9v.9v.4v.6v.2v.3m0 .1v1m0 1.4v1m0 .8v1M317 45.5v1v.9v.1v.5v.5v.1v.1v.6v.6v.8v.3m0 1.1v1m0 .1v1m0 .2v1v.3m0 .6v1v.2v.2v.2v.2v.1v1v.4v.6v.4v.2m0 .2v1v.4v.5v.4m0 .6v1m0 .7v1v.4v.2v.1m0 .2v1v.8v1v1v.5v.1v.7v.5v.8v.4v.5v.3v.1m0 .3v1v.4v.5v.6v.7v.6v.3v.9m0 .3v1v.2v.3v.2v.9v.7m0 .1v1v.4v.1v.4v.3m0 .8v1m0 .1v1m0 .4v1v1v.2v.4v.2v.8v.7m0 3.5v1M318 45.1v1v.7v.2v.1v.3v.2m0 .2v1v.2v.1v.1v.2v1v.3v.1v.4v.2v.7m0 .3v1v.5v.1v.5v.8m0 .9v1v.3v.3v.7v.8v.7v.7v.3v.1v.8v.6v.8v.7v.8v.1m0 .1v1v1v.5m0 .1v1v.2v.7v.9v1v.2v1v.7v.1m0 .1v1v.1v.1v.2m0 .3v1v.1v.4v.3m0 .9v1v.8v.2v.4v.1v.4v.3v.7v1v.3v.4v.3v.4m0 .9v1v1v.4m0 1.5v1m0 1.4v1m0 1.8v1v.9M319 45.4v1v.2v.4v.7m0 .4v1v.7v1v.1v.2v.5v.2v.4v.1v.1m0 .1v1v.7v1v.4v.2v1v.9v.4v.3v.2v1v.4v.3v.6v.2v.3v.1v.7v.3m0 .4v1v.5v.6m0 .3v1v.7m0 .9v1v.4v.5v.1v.1v.1m0 .5v1v.3v.3v.1v.2m0 .3v1m0 .2v1v.2v.7v.2v.3m0 1.3v1v.3v.4v.2m0 .1v1v.3v.7m0 .2v1m0 .7v1v.8v.5m0 1.3v1v.5m0 .8v1v1m0 2.1v1v.3v.2v.3M319.9 43.9v1v.5m0 .6v1v.4m0 .7v1v.3v.1v.8v.8v.5v.9v.2v.5m0 .1v1m0 .9v1v.3v.1v.9v.9v.6v.2v.4m0 .4v1v.4v.7m0 .4v1v.1v.2v.3v.3v.3v.2v.2v.1m0 .5v1v.1m0 .3v1v.3v.3v1v.4v.2v.3v.5v.3m0 .1v1v.2v.6m0 .9v1v.2m0 .1v1v.4v.2v.2v.7m0 .1v1v.1v.5v.7m0 3.3v1m0 .3v1v.1v.5v.4m0 .9v1v.9v.2v.2v.3v.3m0 .3v1m0 .4v1v.5v.8v.3M320.8 43.2v1v.3v.6v.8v.1v.5v.2v.6v.3v.8v.7m0 .7v1v.3v.6v.7v.1v.3v.3v.6v.2v.2v.2v.2m0 .2v1v.1v.2v.4v.1v.4v.1v.4v.9v.9m0 .6v1v.4m0 .6v1v.2m0 .3v1v.9m0 .2v1v.8v.4v.5v.3v.9v.7v.4v.6v.9v.1v.1v1v.4v.1v.2m0 1.6v1v.5v.6m0 .4v1v.7v.5v.1m0 1.8v1m0 .4v1v.7v.5m0 .2v1m0 .1v1v.3v.7v.5v.9v.1v.8v.6m0 .8v1M321.7 43.1v1v.4v.1v.6v.5v.3v.9v.9v.5v.8m0 .5v1v.7v.4v.8v.3v.4v.7v.1v.4v.1v.2v.3m0 1.5v1v.2v.3v.2v.2v.2m0 .5v1v.9v.1v.1v.8m0 .1v1v.9v.3v.8v.3v.5v.1v.1v.9v.4v.2v.2v1v.1v.2m0 1.5v1v.9v.1v.5v.6m0 .1v1v.2v.5m0 1.5v1v.1v.1v.6m0 1.1v1m0 1.3v1v.7v.8v.6v1v.4v.1m0 1.6v1v.7v.5m0 .9v1v.1M322.5 42.8v1v.7v.3v.8v.7v.6v.5v.1v.7v.4v.1v.6m0 .4v1v.4v.4v.4v.2v.1v.4v.6v.3v.1v.7m0 1.5v1v.9v.1v.8v.2v.2v.7v.9v.8v1v.2v.2v.6v.8v.4v.3v.5v.3v.6v.7v.3v.1v.3v.4m0 .6v1v.8m0 .4v1v1v.5v.2v.2v.6v.1v.1m0 .4v1m0 .5v1v.7v.3v1v.5v.2v.3v.1v.3v.6v.7m0 .6v1m0 .3v1v.4v.5v.5v.5m0 .5v1m0 2.2v1v.6v.1M323.3 41.6v1v.5v.2v.1v.6v.8v.6m0 .8v1v.7v.5v.6v.2v.2v.3v.3v.7v.4v.2v.2v.1v.1v.4v.3v.4v.2v.3v.4v.3v.2v.6v.5m0 .4v1v.1v.7v.7v.3v.5v.5v.1v.8v.3v.3v.8v.7v.3v.1v.1v.7v.3m0 .3v1v.5m0 .7v1m0 1v1v.1m0 .7v1m0 1v1v.5v.2m0 .5v1v.3m0 .1v1v.5m0 .3v1v.3v.4m0 1v1v.5v.6v.8v.7v.2v.1v.6v.1v.6m0 1.1v1m0 1.9v1v.8M324.1 40.8v1m0 .3v1v.2v.4v.2v.8v.3v.1v.3v.4v.5v.5v.6v.5m0 .3v1v.1m0 .1v1v.5v.4v.8v.3v.5v.5v.1v.5v1v.6v.3v1m0 1.1v1v.1v.1v.4v.7v1v.9v.3v.9v.3v.1v.1v.8m0 1.2v1v.7m0 .7v1v.4v.2v.9v1v.4v.6v.2v.8v.6v.2m0 .3v1v.8v.4m0 .6v1m0 .7v1v.7v.2m0 1.7v1v.5m0 .3v1v.4v1v.3v.6M324.9 40.8v1v.1v.3m0 .1v1m0 .4v1v.5v.1v.2m0 1v1v.1v1v.3v.2v.7v.6v.2v.5v.1m0 .4v1v.1v.4v.3m0 .8v1v.1m0 .2v1v.2m0 1.1v1v.6v.7v.3v1v.2v.2v.3v.9v.1v.1v.3v.7v.1v1v.8v.2v.1v.3v.6v.5v.1v.1v.1v.3v.9v.8m0 .6v1v.3v.3m0 .2v1v.1v.2v.4v.1m0 1v1m0 .8v1v.6v1v.4v.5v.1m0 1v1v.6m0 2.9v1m0 1.1v1v.3M325.6 40.2v1v.1v.4v.1v.7v.6v.3v.6m0 .4v1v.3m0 .5v1v.3v.1v.2v.2v.5v.3v.2v.4v.2m0 .3v1v.3v.8v.5v.6v.1v.4v.1v.2v.2v.6v.9m0 2.1v1v.2v.1v.1v.3v.4v.2m0 .7v1v.2v.5m0 .4v1v.3v.8v.7v.4m0 .9v1v.8v.4v1v.1v.1v.8v.3v.2m0 .3v1m0 .7v1v.6v.7v.4m0 .3v1v.1m0 .1v1v.5v.2v.3v.9v.4m0 2.7v1m0 .3v1m0 1.3v1M326.4 40v1m0 .3v1v.6v.6v.7v.2v.1v.4v.1v.1v.3v1v.7v.5v.1v.5v.1m0 1.5v1v1v.3v1v.3v.6v.7v.8v.3v.4v.5v.9v.4m0 .3v1v.9m0 .5v1v.3v.3m0 2.4v1v.5v.6v.2v.4v.1v.6v.5v.6v.1v.2v.3v.1v.1v.6v.4v.2v.3v.8v1v.8m0 .4v1v.5v.4v.1v.3v.8v.2v.2v.2v.7m0 .9v1v.4v1v.9v.2v.5v.1m0 3.7v1M327.1 39.2v1v.5v.1v.6v.6v.1v.4v.2m0 1.8v1v.7v.3v.3v.7m0 .1v1v.7v.1v.1v.7v.7v.7v1v.1v.2m0 .5v1v.6v.5v.6m0 .3v1v.8v.9v.1v.2v.7v1v.8v.1v.1v1v.1m0 .2v1v.4v.2v.5v.3v.9v.5v.4m0 .3v1v.9v.4v.2v1v.2v.5v.1v.8v.2v.2v.6v.5v.3m0 .6v1v.7v.3v.3v.3m0 .7v1v.5v.5v.6v.1m0 3.4v1m0 .6v1M327.8 40.4v1v.4v.1v.5v.3v.6m0 .1v1v.1v.1v.1v.3v.5v.1m0 .7v1v.2v.9v.2v.2v.8v.3v.1v.9v.4m0 .4v1v.4m0 1.2v1v.2v.5v.6v.4v.1v.7v.8v.3v.5m0 .1v1v.5v.5v.1v.5v.1m0 1.2v1v.1v.5v.4v.8v.2m0 .2v1v.4v.7v.1v.5v.1v.4v.1m0 2v1v.1v.7v.2v.1v.2v.2v1v.6v.6v.3m0 .5v1v.1m0 .5v1m0 .4v1v.3v.6m0 1.3v1M328.4 38.7v1v.9v.2v.4v.8v.7v.1v.7m0 .7v1v.3v.7v.5v.2v.6m0 .8v1v.1v.1v.6v.1v.1v.8m0 1v1v.7v.5v.2v.2v.1v.2v.6v.9v.5v.7v.3v.8v.2v.3m0 .7v1v.1v.1m0 .8v1v.1v.9v.3m0 1v1v1v1v.5v.6v.1v.1v.2v.9m0 .4v1v.6v.3v.7v.3m0 .5v1v.2v.5v.2v.2v.9v.3v1v.7m0 .4v1v.6v.7v.9v.8m0 .2v1m0 .1v1M329.1 38.7v1m0 .5v1v.3v.9v.4v.1v.7v.2m0 .2v1v.1v.1v.8v.5v.2v.5m0 .8v1v.2v.1m0 .8v1v.2v.8v.2m0 .2v1v.1v.6v.4m0 1v1v1v.6v.1v.8v.9v.1v.1v.1v.1v.8v.5m0 .2v1v.8v.7v.2v.2v.2v.1v.2v.9v.6v.2m0 .4v1v.5v.5v.8v.5v.4m0 .7v1v.3v.4v.1v.3v.3v.1m0 .9v1v.8v.2m0 .2v1v.3m0 1.1v1v.7v.5m0 1.1v1v.3m0 .1v1v.3M329.7 37.8v1m0 .6v1v.1v.6m0 .3v1v.4m0 .5v1v.2v.6v.6v.2v.9v.1m0 .3v1m0 .2v1v1v.2v.6v.5v1v.4v.3v.1v.6v.5v.5v.5v.3m0 .2v1m0 .7v1v.2v.7v.3v.2v.1v.8v.6v.6v.3m0 1.6v1v.1v.6v.7v.2v.2v.8v.2m0 .1v1m0 .1v1v1v.5v.5v.2v.4m0 .1v1v.2m0 .2v1m0 .9v1m0 .1v1v.3v.3v.7v.7m0 .3v1v.3m0 .1v1v.4v.8M330.3 37.1v1v.3v.1v.3v.6m0 1.4v1v.4v.8v.3v.9v.2v.8v.7m0 .2v1v.1v.2v.8v.8v.3v1v.3v.9v.6v.4m0 .6v1v.8v.2v.7v.9m0 .2v1v.1v.2v.3v.3v.1v.7m0 .2v1m0 1v1v.7v1m0 .1v1v.6v.2v.3v.5v.2v1v.5v.8v.1v.6v.6v.2v.4v.3v.4v.4v.1m0 2.5v1v.3v.4v.3m0 .2v1v.1v.6v.1v.7v.3v.4v.4m0 1.8v1M330.9 37.5v1m0 1.1v1v.2v.1m0 .5v1v.1m0 .3v1v.2v.2m0 .1v1v.3v.2v.1v.8v.2v.1v.3v.4v.2m0 .6v1v.3v.5v.1v.1v.9v.6v.1v.2v.1v.3v.6v.5v.3v.5v.2v.1v.9v1v.6v.1v.4v.5v.1v.3v.5v.3m0 .4v1v.4v.1v.1m0 .4v1v.3m0 1.1v1v.8m0 .5v1m0 .2v1v.1m0 .1v1v.1m0 .1v1v.4v.7v.2v.7v.3v.8v.1m0 .4v1v.8m0 .6v1m0 .7v1m0 .7v1v.2v.2v.7M331.5 36.5v1v.1v.8v.3v.4v.1v.5m0 .1v1m0 .2v1v.8v.2v.9v.1v.7v.1v.7m0 .4v1m0 .4v1m0 1.7v1v.3v.2v.2v.1m0 .1v1v.2m0 .6v1v.2v.2v.3v.8v.3v.2v.3v.8v1m0 .4v1v.1v1m0 .1v1v.1v.1v.3v.2v.3v.2v.3v.1v.6v.3v.6v.1m0 .2v1v.6v.5v.1v.2v.1v.3v.2v.3m0 .5v1v.8v.5m0 .3v1m0 1.7v1v.4m0 1.2v1v1v.9v.3m0 .1v1v.5v.1v.8" stroke="#000" stroke-width="0.9" fill="none" opacity="0.72"/>
<polygon points="331.2,36.2 340.8,30.3 345,29.2 351.3,26.6 364.5,23.2 373.7,18.2 385.5,11 397.4,4.4 401,2.8 403.3,3.3 405,6.6 405.2,14.4 404,22.2 401.6,30 393.4,38 385,43.3 378.2,49.2 374.4,51.2 371,55 366.6,61 364.7,63.2 363.7,62.6 365.3,58.5 368.6,49.8 365.5,54 361.6,60 356,66.2 350.5,71.3 345.4,75.3 338,80 331.2,83.3" fill="#f00"/>
<path d="M333.7 82.5v.6M335.1 81.2v.6M335.2 81.6v.6M335.3 32.8v.6M335.6 32.8v.6M335.9 81v.6M337.7 80.2v.6M338.2 80.3v.6M339.4 30.3v.6M339.6 79.4v.6M340.3 29.7v.6M341.8 29.7v.6M342.4 77.3v.6M343.5 28.9v.6M343.5 76.5v.6M344.2 75.8v.6M344.2 75.8v.6M345 28.1v.6M345.4 28.4v.6M345.5 74.9v.6M346.5 74.6v.6M347.1 27.2v.6M347.9 73.1v.6M347.9 73.3v.6M348.1 27.3v.6M348.8 72.7v.6M350 72.3v.6M350.1 26.3v.6M352.1 25.5v.6M352.2 25.4v.6M352.4 25.3v.6M354.7 68.1v.6M354.9 67.6v.6M355.2 24.6v.6M355.4 66.6v.6M355.8 25v.6M355.8 66.4v.6M356.6 24.2v.6M357.9 64.1v.6M358.6 24.2v.6M358.6 63.7v.6M360.5 23.6v.6M360.6 23.4v.6M361.9 59.2v.6M362.1 60.2v.6M363.3 57.2v.6M363.5 57.7v.6M364.4 55.4v.6M365.2 59.8v.6M365.2 60.1v.6M365.3 21.8v.6M365.8 21.9v.6M365.8 22v.6M365.8 62.1v.6M365.9 61.9v.6M366 61.4v.6M366.1 21.9v.6M366.5 56.7v.6M366.7 54.6v.6M366.8 61.3v.6M367 52v.6M367.3 51.4v.6M367.3 51.6v.6M367.6 52.2v.6M367.7 20.7v.6M367.7 51.4v.6M367.7 52.1v.6M368 51.6v.6M368.2 50.6v.6M368.2 51.1v.6M368.5 49.9v.6M369 20.3v.6M369.3 20.1v.6M372.4 18.1v.6M372.4 53.3v.6M372.4 53.6v.6M372.6 52.9v.6M373.6 52.2v.6M373.7 52.5v.6M374.8 51.5v.6M375.9 16.5v.6M376.5 50v.6M377.6 15.3v.6M379.1 48.4v.6M379.2 14v.6M379.2 14.4v.6M379.3 48.3v.6M379.7 14.1v.6M379.8 47.9v.6M380.1 47.3v.6M380.1 48v.6M380.9 46.6v.6M381.6 12.5v.6M382.4 12.5v.6M383.6 11.8v.6M383.6 45.3v.6M385.2 10v.6M385.4 10.5v.6M385.9 43.2v.6M388 8.8v.6M388.6 41.5v.6M388.7 8.7v.6M389.3 40.5v.6M390.1 39.9v.6M390.2 40v.6M391.3 7v.6M391.6 39.1v.6M391.9 7v.6M392.1 7v.6M392.2 38.6v.6M392.3 38.4v.6M392.5 39v.6M394.5 37v.6M394.8 36.5v.6M396.1 35.4v.6M396.6 4.3v.6M397.4 34v.6M397.5 3.3v.6M397.7 3.1v.6M399.3 32.1v.6M399.4 3.2v.6M400.2 2.8v.6M400.2 31.1v.6M400.3 32.1v.6M400.4 2.1v.6M400.7 2.1v.6M401.1 2.4v.6M401.2 30.2v.6M401.6 2.5v.6M403.8 24.8v.6M404.1 4.2v.6M404.3 21.3v.6M404.5 20.3v.6M404.7 17.2v.6M404.7 18v.6M404.7 18.8v.6M404.7 21.5v.6M404.8 17.2v.6M405 6v.6M405.1 15.4v.6M405.2 5.6v.6M405.5 6.9v.6M405.5 8.2v.6M405.5 8.7v.6M405.8 14.3v.6" stroke="#f00" stroke-width="0.7" fill="none" opacity="0.8"/>
<path d="M331.8 82.6v.5M333.8 35.3v.5M334.3 34.1v.5M334.4 34.6v.5M334.9 80.9v.5M336.4 32.8v.5M336.7 32.9v.5M337.7 32.3v.5M338.2 32.2v.5M338.3 79.3v.5M338.9 31.7v.5M341.8 76.5v.5M342 76.9v.5M342.5 29.6v.5M345.6 73.6v.5M346.1 73.5v.5M346.9 73.6v.5M347.1 73v.5M347.9 73.1v.5M351.2 26.7v.5M351.7 69.7v.5M352.5 67.8v.5M353.7 68.1v.5M354.2 26.4v.5M354.4 67.3v.5M355 25.4v.5M356.4 65.4v.5M358.8 62v.5M358.8 62.5v.5M359.1 62.5v.5M359.7 61.7v.5M360.7 24.6v.5M360.8 59.9v.5M362.8 61.6v.5M363.3 56.1v.5M363.6 59.6v.5M364 60.9v.5M364.2 59.9v.5M364.4 23.2v.5M364.7 54.7v.5M364.7 62.8v.5M364.8 58.2v.5M365.3 61.3v.5M365.7 61.5v.5M366 54.6v.5M366.2 52.4v.5M366.6 22.9v.5M367.4 50v.5M367.8 50.4v.5M368.3 49.9v.5M368.8 20.9v.5M368.8 56.8v.5M369.5 21v.5M370.6 54.6v.5M370.8 19.5v.5M372.2 19.5v.5M372.3 19.2v.5M372.5 18.6v.5M372.7 18.4v.5M372.9 51v.5M373.3 18.2v.5M374 18.2v.5M374.2 18.1v.5M376.1 49.6v.5M377.6 49.1v.5M379.1 14.9v.5M379.3 14.8v.5M379.3 47.9v.5M379.5 47.4v.5M379.9 15.2v.5M380.5 14.9v.5M380.6 45.6v.5M381 14.1v.5M384.2 12v.5M384.3 43.5v.5M384.3 43.6v.5M384.8 11.5v.5M385.9 41.4v.5M387.6 10v.5M389.2 39.2v.5M390.2 8.7v.5M391 7.7v.5M391.1 38v.5M391.3 39v.5M392.8 7.4v.5M392.8 7.5v.5M393 37.5v.5M393.9 6.6v.5M395.5 35.6v.5M396.3 5.4v.5M396.7 4.6v.5M397.3 33v.5M397.9 33.3v.5M398 4v.5M398.5 31.5v.5M400.1 3.1v.5M400.2 29.8v.5M400.3 30.3v.5M401.2 29.6v.5M401.7 3.6v.5M402.7 3.4v.5M402.7 23.4v.5M403.3 21.2v.5M403.6 21.5v.5M404.2 5.3v.5M404.2 16v.5M404.2 18.4v.5M404.4 15.9v.5M404.5 8.4v.5M404.5 17.5v.5M404.5 17.7v.5M404.6 6.5v.5M404.6 16.6v.5M404.6 17.9v.5M404.7 12.8v.5M404.8 6v.5M404.9 14.8v.5" stroke="#fff" stroke-width="0.6" fill="none" opacity="0.6"/>
<path d="M332 57.8v.6M332 57.8v.6M332 60.5v.6M332 70.8v.6M332 71.9v.6M332 72.7v.6M332 75.2v.6M332 77.7v.6M332 79.8v.6M332 82.7v.6M332.1 58.3v.6M332.1 59v.6M332.1 60v.6M332.1 61.1v.6M332.1 62.5v.6M332.1 62.5v.6M332.1 62.6v.6M332.1 66.4v.6M332.1 68.1v.6M332.1 72v.6M332.1 74.5v.6M332.1 75.5v.6M332.1 76.3v.6M332.2 67.7v.6M332.2 71.8v.6M332.2 73.3v.6M332.3 65v.6M332.3 70.5v.6M332.3 74.1v.6M332.3 75.9v.6M332.4 57.6v.6M332.4 59.4v.6M332.4 66.8v.6M332.4 67.1v.6M332.4 73.8v.6M332.4 74.4v.6M332.7 66.4v.6M332.7 78.4v.6M333.1 61.5v.6M333.1 65.5v.6M333.1 71.6v.6M333.2 66.7v.6M333.2 70.7v.6M333.2 74.2v.6M333.3 56.2v.6M333.3 56.4v.6M333.3 74.6v.6M333.4 60.2v.6M333.4 67.9v.6M333.5 57.1v.6M333.5 60.5v.6M333.6 59.6v.6M333.6 66.9v.6M333.6 70.1v.6M333.7 71.6v.6M333.8 61.9v.6M333.8 63.1v.6M333.8 70.1v.6M334 59.5v.6M334 67v.6M334 73.1v.6M334.1 61.3v.6M334.2 66.3v.6M334.2 67.4v.6M334.2 80.6v.6M334.3 67.3v.6M334.4 56.5v.6M334.6 67.3v.6M334.7 65v.6M334.8 64.2v.6M334.8 80.6v.6M334.9 74.9v.6M335 57.9v.6M335.1 71.3v.6M335.1 77.9v.6M335.2 56.2v.6M335.2 64.6v.6M335.5 59.6v.6M335.5 63.4v.6M335.5 71.3v.6M335.7 73.1v.6M335.7 78.2v.6M335.8 57.5v.6M335.8 73.3v.6M335.9 55.2v.6M335.9 69.5v.6M336 54.1v.6M336 64.3v.6M336.1 63.8v.6M336.1 74.2v.6M336.2 54.4v.6M336.2 68.5v.6M336.2 69.3v.6M336.3 56.5v.6M336.9 65.9v.6M337 55.7v.6M337 79.5v.6M337.1 70.3v.6M337.2 67.5v.6M337.5 73.7v.6M337.7 73v.6M337.7 74.2v.6M337.8 57.9v.6M337.9 65v.6M337.9 73.4v.6M338 55.9v.6M338.3 62.5v.6M338.3 73.3v.6M338.4 77.1v.6M338.5 60.1v.6M338.5 76.1v.6M338.6 58.1v.6M338.9 68.3v.6M339.1 55.7v.6M339.1 55.9v.6M339.1 64.1v.6M339.1 70v.6M339.3 56.2v.6M339.4 74.1v.6M339.5 63.7v.6M339.7 56.9v.6M340 53.3v.6M340 70.1v.6M340 73.2v.6M340.3 58.7v.6M340.4 59.1v.6M340.6 63.1v.6M340.6 68.9v.6M340.8 54.7v.6M340.9 67.6v.6M340.9 76.1v.6M341 56.3v.6M341.1 71.8v.6M341.1 77.6v.6M341.3 52.3v.6M341.3 65.4v.6M341.4 68.2v.6M341.4 73.6v.6M341.8 62.9v.6M341.9 58.6v.6M342.2 62.2v.6M342.5 60v.6M342.6 73.5v.6M343.1 65.3v.6M343.1 71.6v.6M343.3 60v.6M343.4 55.5v.6M343.4 67.4v.6M343.6 65.7v.6M343.7 53.3v.6M343.7 59.5v.6M343.7 71.3v.6M343.8 53.1v.6M343.9 52.5v.6M344.2 59.5v.6M344.2 71.2v.6M344.4 59.3v.6M344.6 65.5v.6M344.8 56.2v.6M344.8 66.3v.6M344.9 68.7v.6M345.3 62.5v.6M345.3 72.4v.6M345.4 57.3v.6M345.4 62v.6M345.7 63.2v.6M345.8 64.7v.6M345.8 70.4v.6M346.1 60.3v.6M346.4 63.2v.6M346.4 73v.6M346.5 61.5v.6M346.6 48.9v.6M346.6 62.3v.6M346.7 72v.6M346.8 68.8v.6M347.1 68.7v.6M347.2 61.9v.6M347.7 65.1v.6M347.8 64.9v.6M348 68.2v.6M348.1 54.5v.6M348.7 68v.6M348.8 63v.6M349 58v.6M349.1 70.4v.6M349.5 69.8v.6M349.6 70.6v.6M349.9 57.7v.6M349.9 63.6v.6M349.9 65.5v.6M350.3 58.9v.6M351 65.5v.6M351.1 67.7v.6M351.4 52v.6M351.6 56.6v.6M351.6 57.6v.6M351.6 62.2v.6M351.6 67.6v.6M351.7 60.6v.6M351.7 64.6v.6M351.8 48.8v.6M351.8 52.2v.6M352 60.1v.6M352.1 52.8v.6M352.4 46.7v.6M352.7 51.4v.6M352.8 63.2v.6M352.9 50.1v.6M353 61.5v.6M353.1 51.4v.6M353.6 45.7v.6M354.3 65.3v.6M354.4 46.9v.6M354.5 63v.6M354.8 59.5v.6M355.6 45.4v.6M355.8 51.4v.6M357.1 57.2v.6M357.2 60.1v.6M357.7 45.8v.6M358 52.7v.6M358.1 50.2v.6M358.5 55.5v.6M358.8 54.4v.6M359.2 54v.6M360.1 42.1v.6M360.2 52v.6M360.5 44.5v.6M360.6 47.1v.6M360.6 54.6v.6M361.4 40.6v.6M361.4 51.4v.6M362 42.7v.6M362.2 47.9v.6M362.8 57v.6M362.9 49.4v.6M363.5 48.3v.6M363.8 50.7v.6M363.8 53.4v.6M364 42.6v.6M364 46.6v.6M364.8 48.9v.6M365.1 45.9v.6M365.1 51.6v.6M365.2 41v.6M365.3 41.2v.6M365.8 39.3v.6M365.8 41.8v.6M366.1 51.5v.6M366.3 48.2v.6M366.6 41.5v.6M366.7 46.4v.6M366.8 42.1v.6M366.8 42.9v.6M366.8 50v.6M366.8 50.3v.6M367 47.2v.6M367 49.1v.6M367.6 36.8v.6" stroke="#fff" stroke-width="0.55" fill="none" opacity="0.55"/>
<path d="M334.2 40.2v.6M337.6 36.8v.6M337.9 44.2v.6M338.9 33.7v.6M341 35.8v.6M341.1 38.8v.6M343.1 41.3v.6M343.9 34.5v.6M344.9 38.2v.6M345 40.3v.6M348.7 28.3v.6M349.2 35.4v.6M350.4 28v.6M356.2 29.5v.6M356.4 27.8v.6M361.2 27.5v.6M361.6 28.1v.6M365.1 30.4v.6M369.2 21.2v.6M369.7 25v.6M377.1 17.1v.6M385.2 20.6v.6M385.6 14.4v.6M386.9 14.7v.6M387.9 14.6v.6M388.1 16.6v.6M390.1 17.7v.6M393.6 16.2v.6M395 12.5v.6M398.5 8.5v.6" stroke="#fff" stroke-width="0.55" fill="none" opacity="0.4"/>
<path d="M334 80.7v.6M334.1 79.9v.6M334.5 78.8v.6M334.5 78.9v.6M334.6 80.9v.6M335.3 79.9v.6M335.4 77.6v.6M336 78.6v.6M336.2 80.7v.6M336.4 78.9v.6M336.6 78v.6M336.9 79.7v.6M337.1 78.4v.6M337.4 77.6v.6M337.5 79.7v.6M337.6 76v.6M337.6 78.4v.6M337.7 76.7v.6M337.8 78.4v.6M338.2 79.7v.6M338.3 79.1v.6M338.3 79.2v.6M338.4 79.2v.6M338.5 77.1v.6M338.5 78.3v.6M338.6 78.7v.6M338.8 76.7v.6M338.8 77.9v.6M338.9 76v.6M339 78.8v.6M339.4 78v.6M339.4 78.3v.6M339.8 75.8v.6M339.8 77.5v.6M340.2 75.5v.6M340.2 77.1v.6M340.2 78.4v.6M340.5 77.8v.6M340.6 77.9v.6M340.8 76.5v.6M341 76.9v.6M341.3 77.8v.6M341.5 76.7v.6M342 75.1v.6M342.1 74.9v.6M342.1 76.9v.6M342.5 73.7v.6M342.7 74v.6M342.9 75.8v.6M343.1 74.5v.6M343.4 72.8v.6M343.4 75.4v.6M343.9 75.4v.6M344.2 73.4v.6M344.2 75.9v.6M344.4 75.3v.6M344.5 75.8v.6M344.6 75v.6M344.8 74.7v.6M344.8 75.7v.6M345.2 75.3v.6M345.5 73.2v.6M345.5 73.6v.6M345.6 71.3v.6M345.7 73.2v.6M345.8 73v.6M345.9 72.7v.6M346.4 71.6v.6M346.5 72.6v.6M346.7 71.2v.6M346.7 73v.6M346.8 72.9v.6M347.3 73.7v.6M347.4 71.4v.6M348.1 72.7v.6M348.1 73.2v.6M348.4 69.6v.6M348.5 70.1v.6M348.5 71.8v.6M348.9 69.9v.6M348.9 72.3v.6M349.3 70.6v.6M349.6 69.3v.6M349.8 69.9v.6M350 69.8v.6M350.1 67.6v.6M350.1 70.5v.6M350.3 67.9v.6M350.4 70v.6M350.8 70.8v.6M350.9 67.9v.6M350.9 68.1v.6M351.1 66.3v.6M351.4 70v.6M351.5 67v.6M351.6 67.1v.6M351.7 69.3v.6M351.8 70.1v.6M352.4 69.3v.6M353.3 66.7v.6M353.3 68.5v.6M353.6 67.2v.6M354 66.2v.6M354.1 63.4v.6M354.5 63.8v.6M354.5 65.5v.6M354.5 66v.6M354.5 67.1v.6M355.4 66v.6M355.4 66.7v.6M355.6 62.9v.6M355.6 63.8v.6M356 64.2v.6M356 65.3v.6M356.1 65v.6M356.2 64.1v.6M356.3 62v.6M356.8 64.8v.6M357 63.3v.6M357 64.8v.6M357.1 61.6v.6M357.2 64.6v.6M357.3 62.5v.6M357.9 61.6v.6M358 63.6v.6M358.2 61.8v.6M358.4 62.7v.6M358.7 59.9v.6M359 61.5v.6M359.1 61.5v.6M359.3 59.1v.6M359.8 61.8v.6M359.9 58.4v.6M359.9 59.7v.6M360 61.3v.6M360.2 57v.6M360.8 59.2v.6M360.8 60.3v.6M360.9 60.3v.6M361 58.8v.6M361 60.2v.6M361.1 60.5v.6M361.3 57.3v.6M361.5 59.7v.6M361.6 59.4v.6M362 58.7v.6M362.3 54.5v.6M362.6 55.7v.6M362.7 54.3v.6M362.8 55.7v.6M362.9 58v.6M363.1 53.9v.6M363.1 54.8v.6M363.1 57.2v.6M363.4 54.9v.6M363.6 55.6v.6M363.8 53v.6M364 54.9v.6M364 55.4v.6M364 55.9v.6M364.1 53.2v.6M364.5 55.5v.6M364.6 54.4v.6M364.9 52.2v.6M364.9 53.5v.6M365.2 53.8v.6M365.3 52.4v.6M365.5 53v.6M365.6 51v.6M365.9 52.9v.6" stroke="#fff" stroke-width="0.55" fill="none" opacity="0.6"/>
<path d="M332 54.5v.6M332.1 53.7v.6M332.2 55.5v.6M332.3 54v.6M332.4 54.4v.6M332.4 54.4v.6M332.5 55v.6M332.6 53.6v.6M332.6 54.9v.6M332.6 55.6v.6M332.9 55v.6M333 55.3v.6M333.3 53.9v.6M333.5 53.9v.6M333.7 55.1v.6M333.9 54.6v.6M334.7 52.3v.6M335.2 54.1v.6M335.3 53v.6M335.4 53.7v.6M336.1 52.9v.6M337.1 52.3v.6M337.2 51.8v.6M337.3 52.2v.6M337.8 51.7v.6M337.8 52.5v.6M338.3 50.2v.6M338.4 52.1v.6M339 50.2v.6M339.1 52v.6M339.7 50.7v.6M339.8 50.7v.6M340.1 51.6v.6M340.2 49.1v.6M340.4 50.4v.6M340.6 49.7v.6M340.7 50.2v.6M341.2 49.9v.6M341.8 48.7v.6M341.8 49.1v.6M342.5 49v.6M342.6 48.8v.6M342.7 48.3v.6M343 47.8v.6M343.3 47.5v.6M343.4 48.1v.6M343.6 48.4v.6M343.6 49.2v.6M343.7 48.3v.6M344.7 48.1v.6M344.8 47v.6M344.9 47.4v.6M344.9 48.6v.6M345.1 47.4v.6M345.5 47.6v.6M346.5 47.3v.6M346.8 46.2v.6M347.2 46v.6M347.5 47.2v.6M347.8 45.4v.6M348.7 45.9v.6M349.1 44.2v.6M349.4 45.6v.6M350.2 44.9v.6M350.7 45.5v.6M350.9 44.6v.6M350.9 44.8v.6M351.6 43.3v.6M351.7 42.7v.6M351.7 44.7v.6M351.8 44v.6M351.9 45.2v.6M352 43.5v.6M352.4 44.8v.6M352.5 43.2v.6M352.8 42.5v.6M354.5 42.7v.6M355 41.1v.6M355.6 41.8v.6M355.6 42.7v.6" stroke="#fff" stroke-width="0.55" fill="none" opacity="0.7"/>
<path d="M331.8 58L350.8 46.8M331.8 60.4L347.7 50.8M331.8 62.9L356.2 47.5M331.8 65.3L351.4 52.5M331.8 67.8L343.5 59.9M331.8 70.2L343.3 62.2M331.8 72.7L350.7 59.1M331.8 75.1L353.5 59.1M331.8 77.6L350.6 63.2M331.8 80L357.4 59.9" stroke="#fff" stroke-width="0.45" fill="none" opacity="0.5" stroke-dasharray="1.2 .7 .6 .5 2 .6"/>
<path d="M249.2 138.3L331.6 55" stroke="#1a1a1a" stroke-width="1.05" fill="none" opacity="1.0"/>
<path d="M331.6 55L405 13.9" stroke="#fff" stroke-width="0.7" fill="none" opacity="0.85"/>
</g>
<path d="M250.3 162.1v-1.2M250.3 1.5v1.2M253.8 162.1v-1.2M253.8 1.5v1.2M256.9 162.1v-1.2M256.9 1.5v1.2M259.7 162.1v-2.2M259.7 1.5v2.2M278.1 162.1v-1.2M278.1 1.5v1.2M288.8 162.1v-1.2M288.8 1.5v1.2M296.4 162.1v-1.2M296.4 1.5v1.2M302.3 162.1v-1.2M302.3 1.5v1.2M307.2 162.1v-1.2M307.2 1.5v1.2M311.3 162.1v-1.2M311.3 1.5v1.2M314.8 162.1v-1.2M314.8 1.5v1.2M317.9 162.1v-1.2M317.9 1.5v1.2M320.7 162.1v-2.2M320.7 1.5v2.2M339.1 162.1v-1.2M339.1 1.5v1.2M349.8 162.1v-1.2M349.8 1.5v1.2M357.4 162.1v-1.2M357.4 1.5v1.2M363.3 162.1v-1.2M363.3 1.5v1.2M368.2 162.1v-1.2M368.2 1.5v1.2M372.3 162.1v-1.2M372.3 1.5v1.2M375.8 162.1v-1.2M375.8 1.5v1.2M378.9 162.1v-1.2M378.9 1.5v1.2M381.7 162.1v-2.2M381.7 1.5v2.2M400.1 162.1v-1.2M400.1 1.5v1.2M410.8 162.1v-1.2M410.8 1.5v1.2M418.4 162.1v-1.2M418.4 1.5v1.2M424.3 162.1v-1.2M424.3 1.5v1.2M429.2 162.1v-1.2M429.2 1.5v1.2M433.3 162.1v-1.2M433.3 1.5v1.2M436.8 162.1v-1.2M436.8 1.5v1.2M439.9 162.1v-1.2M439.9 1.5v1.2M249.2 158.2h1.2M442.5 158.2h-1.2M249.2 153.8h1.2M442.5 153.8h-1.2M249.2 150h1.2M442.5 150h-1.2M249.2 146.6h1.2M442.5 146.6h-1.2M249.2 143.6h2.2M442.5 143.6h-2.2M249.2 123.7h1.2M442.5 123.7h-1.2M249.2 112.1h1.2M442.5 112.1h-1.2M249.2 103.9h1.2M442.5 103.9h-1.2M249.2 97.5h1.2M442.5 97.5h-1.2M249.2 92.2h1.2M442.5 92.2h-1.2M249.2 87.8h1.2M442.5 87.8h-1.2M249.2 84h1.2M442.5 84h-1.2M249.2 80.6h1.2M442.5 80.6h-1.2M249.2 77.6h2.2M442.5 77.6h-2.2M249.2 57.7h1.2M442.5 57.7h-1.2M249.2 46.1h1.2M442.5 46.1h-1.2M249.2 37.9h1.2M442.5 37.9h-1.2M249.2 31.5h1.2M442.5 31.5h-1.2M249.2 26.2h1.2M442.5 26.2h-1.2M249.2 21.8h1.2M442.5 21.8h-1.2M249.2 18h1.2M442.5 18h-1.2M249.2 14.6h1.2M442.5 14.6h-1.2M249.2 11.6h2.2M442.5 11.6h-2.2" stroke="#8a8a8a" stroke-width=".6" fill="none"/>
<rect x="249.2" y="1.5" width="193.3" height="160.6" fill="none" stroke="#8e8e8e" stroke-width=".75"/>
<path d="M471 1.5V162.1M474.5 1.5V162.1M477.6 1.5V162.1M498.8 1.5V162.1M509.5 1.5V162.1M517.1 1.5V162.1M523 1.5V162.1M527.9 1.5V162.1M532 1.5V162.1M535.5 1.5V162.1M538.6 1.5V162.1M559.8 1.5V162.1M570.5 1.5V162.1M578.1 1.5V162.1M584 1.5V162.1M588.9 1.5V162.1M593 1.5V162.1M596.5 1.5V162.1M599.6 1.5V162.1M620.8 1.5V162.1M631.5 1.5V162.1M639.1 1.5V162.1M645 1.5V162.1M649.9 1.5V162.1M654 1.5V162.1M657.5 1.5V162.1M660.6 1.5V162.1M469.4 156.4H663.8M469.4 152.2H663.8M469.4 148.5H663.8M469.4 145.3H663.8M469.4 123.4H663.8M469.4 112.3H663.8M469.4 104.5H663.8M469.4 98.4H663.8M469.4 93.4H663.8M469.4 89.2H663.8M469.4 85.5H663.8M469.4 82.3H663.8M469.4 60.4H663.8M469.4 49.3H663.8M469.4 41.5H663.8M469.4 35.4H663.8M469.4 30.4H663.8M469.4 26.2H663.8M469.4 22.5H663.8M469.4 19.3H663.8" stroke="#f7f7f7" stroke-width=".7" fill="none"/>
<path d="M480.4 1.5V162.1M541.4 1.5V162.1M602.4 1.5V162.1M469.4 142.4H663.8M469.4 79.4H663.8M469.4 16.4H663.8" stroke="#f1f1f1" stroke-width=".8" fill="none"/>
<g clip-path="url(#cp3)">
<linearGradient id="g3" gradientUnits="userSpaceOnUse" x1="526" y1="0" x2="558.9" y2="0"><stop offset="0" stop-color="#000" stop-opacity="0"/><stop offset=".55" stop-color="#000" stop-opacity="0.35"/><stop offset="1" stop-color="#000" stop-opacity="0.95"/></linearGradient>
<polygon points="526,45.3 528.5,43 531.1,41.2 533.6,39.4 536.1,37.6 538.7,36.1 541.2,34.6 543.7,33.1 546.2,31.5 548.8,30 551.3,28.7 553.8,27.5 556.4,26.3 558.9,25.4 558.9,90.5 556.4,93.2 553.8,96 551.3,99.6 548.8,103.2 546.2,106.9 543.7,111.1 541.2,115.4 538.7,119.6 536.1,124 533.6,128.5 531.1,132.9 528.5,137 526,141.1" fill="url(#g3)"/>
<path d="M480.5 101V168M488.5 89V168M493.5 85V168M498.5 81V168M502.5 77V168M506.5 76V168M509.5 74V166M512.5 71V163M514.5 68V160M517.5 65V158M519.5 63V155M521.5 61V152M523.5 59V150M524.5 57V148M526.5 56V145M527.5 54V143M529.5 53V140" stroke="#000" stroke-width="1" fill="none" opacity="0.3"/>
<path d="M480.5 92v1v1v1v1v1v1v1v1v1v1v1v1v1v1v1v1v1v1v1v1v1v1v1v1m0 1v1v1v1m0 1v1v1v1v1m0 1v1v1m0 1v1v1v1v1v1v1v1v1v1v1v1m0 1v1v1v1v1v1v1v1v1v1v1v1v1v1v1v1v1v1v1v1v1v1v1v1v1v1v1v1M488.5 78v1v1v1v1v1v1m0 1v1v1v1v1v1v1m0 1v1v1v1v1v1v1v1v1v1m0 1v1v1v1v1m0 1v1m0 1v1v1m0 2v1v1v1v1v1v1v1v1v1v1v1v1v1v1v1v1v1v1v1v1v1v1v1v1v1v1v1v1v1m0 1v1v1m0 1v1v1v1v1v1v1v1v1v1v1v1v1v1v1v1v1v1v1v1v1v1v1M493.5 73v1v1m0 1v1v1v1v1v1v1v1m0 1v1m0 1v1v1v1v1v1v1v1v1v1v1v1v1v1m0 1v1v1v1m0 1v1v1v1v1v1v1v1v1v1m0 1v1v1v1v1v1v1m0 1v1v1v1v1v1v1v1v1v1v1v1v1v1v1v1v1m0 1v1v1v1v1m0 2v1v1v1v1v1v1v1v1v1v1v1v1v1v1v1m0 1v1v1v1v1v1v1v1v1M498.5 69v1v1v1v1v1m0 3v1v1m0 1v1v1v1v1v1v1v1v1v1v1v1v1v1v1v1v1v1v1v1v1v1v1v1m0 1v1v1v1v1v1v1v1v1v1m0 1v1v1v1v1v1v1v1v1v1v1v1v1v1v1v1v1m0 1v1v1m0 1v1v1v1v1v1v1v1v1v1v1v1v1v1v1m0 1v1v1v1v1m0 1v1v1v1v1v1v1v1v1v1v1v1v1v1v1M502.5 65v1v1m0 1v1v1v1v1v1v1m0 2v1v1m0 1v1m0 1v1v1v1v1v1v1v1v1v1v1v1m0 1v1v1v1v1v1v1v1v1v1v1v1v1v1m0 1v1v1v1v1v1v1v1v1v1v1v1v1v1v1v1v1v1v1v1v1v1v1v1v1v1v1v1v1v1v1v1v1v1v1v1v1v1v1v1v1v1v1v1v1v1m0 1v1v1v1v1v1v1v1v1v1v1v1m0 2v1v1M506.5 63v1v1v1v1m0 1v1v1v1v1v1v1v1v1v1v1v1v1v1v1v1v1v1v1v1v1v1v1v1v1v1v1v1v1v1v1v1v1v1v1v1v1v1v1m0 2v1v1v1m0 1v1v1v1v1v1m0 1v1v1m0 1v1v1v1v1v1v1v1v1v1m0 1v1v1v1v1v1v1v1v1v1v1v1v1v1v1v1v1v1v1v1v1v1v1v1v1v1v1v1v1v1v1m0 1v1v1v1v1v1v1M509.5 62v1v1v1v1v1v1v1m0 1v1v1v1v1m0 1v1v1v1v1v1v1v1v1v1v1v1v1v1v1v1v1v1v1m0 2v1v1v1v1v1v1v1v1v1v1v1v1v1v1v1v1v1v1m0 1v1v1m0 1v1v1v1v1v1v1v1v1v1v1m0 1v1v1v1v1v1v1v1v1v1v1v1v1v1v1v1v1v1v1v1v1v1v1v1m0 1v1v1v1v1v1v1v1v1v1v1v1v1v1v1v1M512.5 59v1v1v1v1m0 1v1v1v1v1v1v1v1v1v1m0 1v1v1v1m0 1v1v1v1v1v1v1v1m0 1v1v1v1v1v1v1v1v1v1v1v1v1v1v1v1v1v1v1v1v1m0 1v1m0 1v1v1v1m0 1v1v1v1m0 1v1v1v1v1v1v1v1v1v1v1m0 1v1v1v1v1m0 1v1v1v1v1v1v1v1v1v1v1v1m0 1v1m0 1v1v1v1v1v1v1v1v1v1v1v1v1v1v1v1v1v1M514.5 55v1v1m0 2v1v1v1v1v1v1v1v1m0 1v1v1v1v1v1v1v1v1v1v1v1v1v1v1v1v1v1v1v1v1v1v1v1m0 1v1v1v1v1v1v1v1v1v1v1m0 1v1v1v1v1v1m0 1v1v1v1m0 1v1v1v1v1v1v1v1v1v1v1v1v1v1v1v1v1v1v1v1v1v1v1m0 1v1v1v1v1v1v1v1v1v1v1v1v1v1v1v1v1v1v1v1v1v1v1v1v1v1M517.5 52v1v1v1v1v1v1v1v1m0 1v1v1v1v1v1m0 2v1v1v1v1v1m0 2v1m0 1v1v1v1v1v1v1m0 1v1v1v1v1m0 1v1v1v1v1v1v1v1v1v1m0 2v1v1v1v1m0 1v1v1v1m0 1v1m0 1v1v1v1v1v1v1v1v1v1v1v1v1v1v1v1v1v1v1v1v1v1v1v1v1v1v1v1v1v1v1v1v1v1m0 1v1v1v1v1v1v1v1v1v1v1v1v1v1M519.5 50v1v1m0 2v1v1m0 1v1v1v1v1v1m0 1v1v1v1v1v1v1v1v1v1v1v1m0 1v1v1v1v1v1v1v1v1v1v1v1v1v1v1v1v1v1v1v1v1v1v1v1v1m0 1v1v1v1v1m0 1v1v1v1v1v1v1v1v1m0 1v1v1v1v1v1m0 1v1v1m0 1v1v1v1v1v1v1v1v1v1v1v1m0 1v1v1v1v1v1m0 1v1v1v1v1v1v1v1v1v1v1v1v1v1v1M521.5 48v1v1v1v1v1v1v1m0 2v1v1v1v1v1v1v1v1v1m0 1v1v1v1v1m0 1v1v1m0 1v1v1v1v1v1v1v1m0 1v1v1v1v1v1v1v1v1v1v1v1v1v1m0 2v1v1v1v1v1v1m0 1v1v1v1v1v1v1v1v1v1v1v1v1v1m0 1v1v1v1v1v1m0 1v1v1v1v1m0 1v1m0 1v1v1v1v1v1v1v1v1v1v1v1m0 1v1m0 1v1v1v1v1v1v1v1M523.5 47v1v1v1m0 1v1m0 3v1v1v1m0 1v1v1v1v1v1v1v1v1v1v1v1v1v1v1v1v1v1v1v1v1v1v1v1v1v1v1v1m0 1v1v1v1v1v1v1v1v1v1v1v1v1v1v1v1v1v1v1v1v1v1v1v1v1v1v1v1v1v1v1v1v1m0 2v1v1v1v1v1v1v1v1v1v1v1v1v1v1v1v1v1v1v1v1v1v1v1v1v1v1v1m0 1v1M524.5 45v1m0 1v1v1v1v1v1v1m0 2v1v1m0 1v1m0 1v1v1v1v1v1v1v1v1v1v1v1v1v1v1v1v1m0 1v1m0 2v1v1v1v1v1v1m0 2v1v1v1m0 1v1v1v1v1v1v1v1v1v1v1m0 1v1v1v1v1v1v1v1m0 1v1v1v1v1v1v1v1v1v1v1v1v1v1v1v1v1v1m0 1v1v1v1v1m0 1v1v1v1v1v1v1v1v1v1v1m0 1v1m0 1v1M526.5 43v1v1m0 1v1v1v1v1v1v1v1v1v1m0 2v1m0 1v1v1v1v1v1v1m0 1v1v1v1v1v1v1v1v1v1v1v1v1v1v1v1v1v1m0 1v1v1v1m0 1v1v1v1v1v1v1v1v1v1v1v1m0 1v1v1v1v1v1v1m0 1v1v1v1v1v1v1v1v1v1m0 1v1v1v1v1v1v1v1v1v1v1v1v1v1v1v1m0 2v1v1v1v1v1v1v1v1v1v1v1M527.5 42v1m0 1v1m0 1v1v1v1v1v1v1m0 1v1v1v1v1v1v1v1v1m0 1v1v1v1v1v1v1v1v1v1v1v1v1v1v1v1m0 1v1v1v1v1v1v1v1v1v1v1v1v1m0 1v1v1v1v1v1v1v1v1v1v1v1v1v1v1m0 1v1v1v1v1v1m0 1v1v1v1v1v1v1v1v1v1v1v1v1v1v1v1v1v1v1v1v1v1v1v1v1m0 2v1v1v1v1M529.5 41v1m0 1v1v1v1v1m0 1v1m0 2v1v1v1v1v1m0 1v1v1v1v1v1v1v1m0 1v1v1v1v1v1v1v1v1v1m0 1v1v1v1v1v1v1v1v1v1v1v1v1v1v1v1v1v1v1v1v1v1v1v1v1v1v1m0 1v1m0 2v1m0 1v1v1v1v1v1v1m0 1v1v1v1v1v1v1v1v1v1v1v1v1v1v1v1v1v1v1v1v1v1v1v1v1m0 1v1" stroke="#000" stroke-width="1" fill="none" opacity="0.5"/>
<path d="M530.7 40.4v1.8v1.5v1.6v.2v.4v1.3v.1v.4v1.4v.2v1.8v.2v.1v1v1.6v.8v.1v.2v.8v.1v.8v.4v.3v1v.8v.2v.2v.5v1.3v.2v1.4v.2v.1v.1v1.2v.4v.2v.1v.6v.4v.2v.1v.4v.6v.2v.2v.9v.5v.2v.8v.3v.8v.1v.1v.8v1.5v.2v.4v.3v.3v.1v.1v.1v.2v.4v.2v1.4v1.1v.6v1.3v.9v.5v.5v.6v.1v.1v.5v.4v.3v1.2v.5v.1v.2m0 .2v1.8v.1v.4v.1v.3v1.3v.5v.4v.8v.2v1.6v.2v.6v.9v1v1.4v.2v.2v.4v.2v.9v.5v.1v.4v.2v.1v.1v.4v1.1v.6v.1v.2v.1v1.2v.2v.5v.4v.1v.6v.2v.8v.2v.1v.5v.1v.3v.6v.1v.1v.9v1m0 .1v1.8v.6v.3v.4v.1v.2v.4v1v.6v.9v.3v.1v.2v1.6v1v.5v.2v1v1v.5v.3v1v.2v.6v1.4v.3v.1v.8v.3v.3v.3v.1v.2v.1v1.2v.4v1.6v.5v.4v.1v.1v.4v.1v.3v.9v.2v.1v.1v.1v.3v.1M532 39.7v1.8v.3v.8v1v.3v.2v.4v1.3v1.1v1.5v.9v.5v.9v.3v.6v.7m0 .8v1.8v.1m0 1v1.8v.3v.5v.1v1v.1v.2v.5v.5v.2v.2v.2v1.2v1.5v.5v1.1v.6v.2v.5v.2v.4v.1v.4v.2v.3v1.3v.1v.4v1.2v.5v1.2v.3v.2v.4v.2v.1v1.4v.3v1.1v.3v.2v.1v1.4v.6v.7v.5v.6v1.4v.1v.6v.2v.6v.1v.4v.6v.1v.4v.6v.1v.8v.6v.5v.2v.1v.2v.1v1v.6v.2v.1v.1v.3v.7v.1v.3v.1v.1v.6v.3v.5v.4v1.6v1.1v.8v.2v.4v1v.2v.4m0 .1v1.8v.4v.3v.7v.3v.3v.5v.3v.1v.5v.3v.1v.5v.1v.9v.1v1.7v.7v1.2v.3v.2v.1v.5v1v.7v.6v1v.5v.5v.5v.2v.9v.4v.1v.9v.1v.9v.2v.1v.9v.2v.3v1.2v.4v.6v.2v.4v.2v.7v.5v.3v.1v.4v1.2v.3v.2v.6v.2v.2v.3v.2v.6v.6v.6v.1v.4v.4v.3v.8v.8v1v.6v.2M533.2 38.4v1.8v1.6v1.2v1.7v1v.4v.2v.7v.2v.1v.3v.4v1.4v1.1v.1v.7v.3v.3v.1v.1v.6v.1v.2v.5v.3v1.8v.6v1v.3v.7v.8v.6v1.1v.5v.8v.7v.4v.6v.6v.1v.2v.9v.3v.1v.7v1.3v.1v.1v.1v.4v1.1v.3v1v.2v.8v.1v.2v.4v.3v.5v.4v.4v.9v.7v.1v1.5v.5v1.2v.3v.3v1.3v.2v.3v.5v.2v.1v1.3v.5v.8v.2v.3v.7v1.2v.8v.5v1.2v.4v.2v1.7v.1v.1v.2v.7v.2v.1v.4v1.5v.4v.4v.2v.2v.2v.2v.3v.4v.1v.1v.3v.5v.4v.1v.8v.1v.4v.7v.3v1.4v.6v.1v.4v.4v1.2v.1v.2v.2v.1v.4v.9v1.8v.2v.4v1.2v1.1v.9v.4v.2v.2v.4v.3v.5v.5v.2v.1v.2v1.2v.1v.1v.2v.4v.4v1v.5v.2v.1v.5v.4v.2v.2v.5v.1v1.2v.2v.8v.1v1.2v.5v.9m0 .8v1.8v.6v1.3v.2v.6v.1v.7v.1v1v.2M534.4 38.1v1.8v.7v1.1v1v.5v.7v.5v.4v.2v.6v.8v.1v.2v.1v.3v.3v1.1v.7v1.6v.3v.7v.6v.5v.2v.2v1.3v.2v.3v.8v.4v.4v.1v1.5v.2v.3v.5v.2v.1v.2v.2v.2v.4v.7v.1v.1v.2v1.4v.3v.7v.4v.1v.5v.4v.1v1.2v.1v1.1v.1v.2v.5v.9v.8v1.1v.4v.1v.3v1v.2v.4v.2v.1v.2v.1v.5v1v1v1.1v.1v.1v.5v.4v.2v1.5v1v.7v.3v1.6v.1v.2v.1v.1v.2v.3v.4v.3v.3v.5v.2v1.2v.6m0 .2v1.8v1v.2v.2v1.3v.1v.3v.9v.7m0 .1v1.8v.3v.3v.1v.1v.2v.3v.3v.2v.2v.7v.4v.4v.1v.5v1.1v.4v.2v.2v.1v.8v1v.9v.7v1v1.1v.7v.1v.8v.4v.9v.1v1.3v.4v.5v.1v.2v.3v.2v.9v1.2v.5v.3v.2v1.6v.7v1.3v1v1.7v.6v.7v.2v.9v1v.9v.6v.1v.6v1.2v.2v.3v1.1M535.5 36.7v1.8v.5v1v1.7v.7v1.3v.2v.2v1.1v.8v.2v.2v.3v.7v.1v.3v.4v.3v.1v.7v.1m0 .8v1.8v1.1v.5v.4v.9v.8v.4v.5v.2v.5v.4v.3v.2v.1v.4v.3v.6v1.1v1v.3v.1v.2v1.1v.5v.1v.5v.2v.6v.2v.6v.5v.4v.9v.2v.2v.9v.5v.5v.2v.9v.1m0 .9v1.8v.1v.8v1.2v.2v.5v.1v.3v.6v.1v.1v.2v.9v.1v1.1v.5v.2v.1v1.3v.1v.5v.4v.5v.7v.1v1.3v.9v.8v.6v.2v.7v.1v.7v.3v.1v.6v.3m0 .2v1.8v.5v.1v.4v1m0 .2v1.8v.3v.4v.5v.1v.6v.1v1.5v.2v.5v.1v.7v.2v1v.7v.3v1.6v.3v.3v.3v.4v.9v.1v1v.5v.1v.6v.5v.6v.2v.1v.5v.5v.4v.2v.5v1v.3v.1v.9v.6v1.6v.2v.1v.2v.1v.5v.7v1.8v.1v.1v1.1v.7v.7v.2v.1v.1v.5v.2v.4v.2v.3v.2v.6v.5v.1v.8v1.1v.3M536.6 35.9v1.8v.9v.6v1v.6v.5v.2v.3v.1v.5v.1v.2v.1v.6v.2v.2v.1v.7v1v.6v.2v.5v.9v1.5v.2v.8v1.2m0 .3v1.8v.2v.4v.3v.5v1v.3v1.3v1.8v.7v.3v.4v.2v.1v.2v.1v1.4v.9v.2v.7v.2v.3v.5v.5v.8v.9v.3v.7v.1v.1v1.6v.4v.1v.2v1v.1v1v.2v.3v.1v.1v.6v.3v.2v.5v.1v.1v.7v1.5v.3v.8v.5v.1v.8v.1v1v1.4v.2v.1v.4v.4v1.1v.1v.6v.9v.3v.5v.3v.6v.3v.9v.5v1.1v.3v.4v.4v.3v.5v.2v.4v.7v.2v.1v.5v.1v.3v1.3v.2v.3v.6v.3v.8v.1v.4v.4v1v.8v.1v.2v.6v.2v.7v.3v.5v.2v.4v.4v.7v.1v.2v.4v1.6v.2v.1v1.5v1.6v.4v.4v1.5v.1v.5v.2v.2v.9v.6v.4v.9v.4v.1v.2v.5v.6v.5v1.2v.8m0 .5v1.8v.1v1.2v.1v1v.4v.2M537.6 36.4v1.8v.4v1.8v1.4v.4v1v.1v.1v1.1v.3v.7v.3v.1v.6v.3v.3v1.3v1.5v.3v.3m0 .1v1.8v.6v1.3v.4v.3v.6v1.1v.9v.6v.8v.4v.6v.6v.3v1v.2v.1v.1v.2v.1v.8v.3v.3v.1v.3v.8v.2v.5v.4v.6v.1v.2v.4v.1v.4v.3v.4v.6v.4v.2v.1v.5v.1v.3v.9v1v.1v.1v.3v.6v1.2v.4v.4v.8v.7v.2v.5v.7v.3v.3v.2v.5v.3v1.4v.1v.2v.3v.6v.1v.6v1v1.2v.3v.3v.8v.1v.7v1.7v.3v.4v.5v.8v.3v.1v.8v.5v.2v.8v.6v1.1v.7v.5v.6v.2v.1v.5v.8v.1v.1v.3v1.5v1.2v1.3v.6v.7v.5v.1v.2v.6v.1m0 .4v1.8v.2v.3v.4v.5v.6v.1v.8v.3m0 .3v1.8v.6v.1v.3v.3v.1v.7v.1v.1v.4v.2v.5v.2m0 .3v1.8m0 1v1.8v.8v1.1v.3m0 .2v1.8v.1M538.6 35.3v1.8m0 1v1.8v1.2v.7v.6v.2v1v.6v.6v.5v1.1v.8m0 .5v1.8v.4v.7v.1v1.1v.5v.3v.2v.8v.2m0 1.8v1.8v.7v.1v.2v.5v.2v.3v.1v.4v.2v.4v1v.7v.1v.2v.4v1v.5v.4v.8v.9v.8v.1v1.6v.1v.7v.4v.1v.2v.6v.1v.9v.2v.7v.6v.4v.6v.8v.4v.5v.8v.5v.2v.5v.2v.1v.2v.6v.3v.3v.1v.2v.4v.3v.2v.2v.6v.5m0 1.2v1.8v.8v.1v1.6v.4v.8v.3v.2v.9v.1v.4v.3v.6v.2v.2v.2v.6v.1v.2v.3v.5v.1v1.7v.1v.1v1.2v.6v.6v.3v.3v.3v.3v.2v1.8v.3v.9v.2v.2v.2v.8v.2v.5v.1v.7v1.3v.1v.5v1v.4v.1v.6v.1v.3v.8v1.8v.3v.3v1.1v.8v.3v.2v.1v.2v.1m0 1.1v1.8v.1v.2v.6v1.1v.8v1.7v.3v.1v1.3M539.6 34.7v1.8v.1v.1m0 .2v1.8v1.4v.4v1v.2v.8v.3v.2v.8v.3v.2v1.6v1.2v1.1m0 .6v1.8v.3v.1v.2v.4v.8v.5v.4m0 .1v1.8v.1v.3v.1v.6v1v.3v.6v.2v.2v.6v.8v.6v.6v.4v1.3v.2v.1v.1v1.2v.1v.5v.3v.2v.2v.2v.1v1.5v.2v.2v.2v.4v.2v1.1v1.5v.1v.5v.1v1.1v.7v.7v.6v.2v.4v1v.2v.1v.2v.7v1.6v.1v.1v.2v1.1v.5v1.8v1v.5m0 .2v1.8v.2v.5v.9v.6v.3v.9v1.1v.4v.1v.9v.2v.3v.8v.5v.5v1.1v1.2v.2v.1v.2v.1v.5v.1v1.4v.1v.5v.4v.3v.9v.1v.1v.3v.1v.3v.5v.6v.6v.2v.5v.4v.4v.5v.2v.1v.7v.8v.4v.8v.8v.6v.2v.1v.7v.4v.3v.5v.7v.6v.3v1.2v.6v.4v.4v.1v.3v1.3v.6v.2v.8v.9v.8v.1v.2v.1v.8v.2M540.5 33.8v1.8v.2v.3v.1v.2v1v.7v.4v.5v.1v.3v.1v1.8v.9v.3v.4v.2v.4v.5v.3v.4v.6v.1v.1v.3v.5v.2v1.5v.4v.1v1v.2v1v.5v.2v.1v.2v.1v.1v.4v.4v.4v.1v.3v.4v.2v.5v.2v.4v.2v.5v1.1v.3v.2v.8v.2v1.4v.6v1.1v.3v.1v.1v1.5v1.3v.6v1.1v.1v1.1m0 .1v1.8v.2v.9v.1v1.5v.8v.1v.5v.6v1v.6v.2v.5v.4m0 .1v1.8v1v.1v1.1v.3v.2v.5v.2v1v.4v.1v1.3v.2v.6v.4v.3v.2v.6v1.7v.1v.7v.4v.2v.2v1.3v.2v1.6v.1v.5v.3v.1v.2v.2v.6v.2v.8v.2v.4v.3v.5v.9m0 .2v1.8v.4v.2v.6v.6v.5v1.3v.3v.1v.1v1.3v.2v.2m0 .9v1.8v.3v.2v.2v.5v.5v1.8v.2v.1v1.5v.3v.3v.3v.3v.5v.2v.7v1.4v.6v1.7v.5M541.4 33.1v1.8v.6v.1v.9v.9v.4v.5v.1v.3v.2v1.4v.1m0 .4v1.8v.8v.9v.4v.3v.2v.6v.5v.3v.5v.2v.2v.3v1.4v1.4v.3v.2v.7v.9v.4v1.2v.4v.6m0 .2v1.8v.3v1.8v.1v.8v.9v.5v.2v.3v.2v.8v.7v.4v.6v.3v.4v.1v.1m0 .2v1.8v.5v.7v.8v.6v.2v.6v.4v.2v.8v.7v1v.1v.4v1v.2v.3v.2v.2v.2v.1v1v.4v.8v.9v.2v.7v.6v.7v.2v.5v.4v.8v.4v.4v.9v.8v.8v.3v.1v.7v.4v.1v.5v.1m0 .3v1.8v.3v.5v.3v.9v.1v.1v.7v.1v.3v1.2v1.2v.1v1.1v.1v.5v.1v.2v.7v1v1.2v.2v.8v.7v.6v.1v.3v.5v.1v.4v.2v.1v.1v.6v.1v.2v1.7v.5v.4v.5v.4v.2v.4v1.6v.4v.1v.1v1.7v.9v.3v.3v.9v.3v.6v.6v.6v1.1M542.3 33v1.8v.4v.5v.1v1.4v.3v.2v.5v.2v.8v.6v1.3v.1v.5v1.5v.5v1.4v1.1v.6v1.1v.2v.1v.4v.1v.5v.4v.8v1.2v1.4v.3v.8v.3v.2v.5v.4v.4v.3v.8v1.5m0 .3v1.8v.6v.3v.3v.9v.4v1v.2v.7v1.2v.2v.6v.1v.1v.4v1.2v.2v.2m0 .5v1.8v.4v.7v1.4v.1v.2v.3v.7v.5v.5v.8v.1v.5v1.1v.4v.1v.2v.3v.1v.5v1.4v1.7v.1v.1v.5v.5v.1v.2v.1v.2v.5v1.7v.1v.1v.3v.1v.3v.5v.3v.5v.4v.5v.2v.3v1v.3v.4v1v.1v1.1v.8v.2v.2v.1v.3v.2v.5v.1v.3v.1v.1v1v1.5v.8v.9v.3v.3v.2v.3v1.2v.3v.5v.1v.4v.4v.2v.1v.5v.4v.5v.1v.9v.1v1.6v.3v.4v.2v.7v1.3v.3v.1v.7v.1v.3v1v1.7v.8v.3v.2v.5M543.1 33.8v1.8v.3v.2m0 .6v1.8v.1v.1v.7v1.4v.4v.2v.1v.7v.6v.7v.1v.1v.2v1.4v.1v1.8v.1v.1v.8v.6v.8v1.5v.1v.5v.3v1.1v.5v.4v.6v1m0 .2v1.8v.3v.3v1.5v.7v.5v.1v.1v.7v.2v.7v.1v.5v1.1v.1v.6v.9v.2v1.3v.1v1.5v.5v.1v.3v.8v.3v.1v.3v.2v.5v.4v1.2v.7v.1v.6v.2v.9v.2v.9v.6v1.3v.5v.1v.1v.1v.7v.3v.1v.3v.5m0 .3v1.8v.3v.9v.2v.4v.6m0 .4v1.8m0 .3v1.8m0 .2v1.8v.1v1v.1v.9v1.1v.1v.3v.5v.7v.4v.2v.2v.1v.9v.4v.7v.2v.4v1.7v.4v.6v.6v.9v.2v.3v.6v.7v.1v.2v.2v.6v1.2v.1v.2v.4v.1v1.1v.8v.5v.3v.2v.3v.1v.7v.3v.1v1.3v.2v.2v1.1v.7v.1M543.9 31.5v1.8v.2v1.5v.3v1v.2v.1v.1v.6v.1v.1v.9v.2v.1m0 .1v1.8v.6v.7v1.1v1.2v.5v.2v.3m0 .7v1.8v.1v1.2v.5v.1v.1v.3v1.8v.1v1.3v1.2v.2m0 .2v1.8v1.3v.1v.2v.4v.3v1v.1v.1v.1v.4v.4v.2v.6v1v1.3v.5v.2v.4v.1v.1v.4v1v.4v.6v.4v.1v1.5v.2v.9v.4v.3v.4v.1v1.5v.4v.1v.6m0 1.1v1.8v.4v.9v.1v1.1v1.3v.4v.1v.4v.3v.4v.1v.4v.4v.3v.4v.3v.3v.6v.5v1.7v.1v1v.3v.2v.3v.1v.5v.3v.2v.1v1v1.2v.8v.4v.1v.5v.6v.4v.4v.2v.4v.1v.1v.5v.3v.3v.1m0 1.2v1.8v.6v.2v.3v.1v.5v.1v.2v.3v.7v.1m0 .8v1.8v.3v.3v.9v1.3v.5v.2v.3v.3v.1v1v.3v.8v.8v.3v.6v.9v.6v.1M544.7 31.1v1.8m0 .2v1.8v.2v1.7v1.2v.6v.4v.7v.1v.3v.2v.3v.2v.9v1v.8v.9v.1v.5m0 .6v1.8v.2v.7v1.4v.4v.7v.6v.4v.1v.2v.3v.3v.4v.7v.7v.1v.3v.5v.1v.7v.4v.4v.7v.2v.3v.3v.7v1.8v.2v.6v.6v.1v.2v1.3v.1v.9v.2v1.2v1v.3v1v.2m0 .2v1.8v.2v.8v.2v.6v.5v.4v1.1v.7v.2v.4v.4v.1v.1v.4v.2v1.1v.7v.8v1.2v.5v.5v.6v.3v.1v.5v1.5v.7v.9v.4v.2v.4v.2v.3v.1v.6v.4v.5v.2v1.2v.2v.2v.1v.2v.3v.2v.6v.2v1.7v.6v.1v1.2v.5v.9v.1v.3v.5v.1v.2v.7v.1v.3v.3v1.1m0 .1v1.8v.3v1.2v.3v.8v.2v.8m0 .4v1.8v.1v.1v.6v.1v.7v.3v.8v.2v1.7v.7M545.5 31v1.8v.3v.3v.6v.4v.1m0 .4v1.8v.4v.1v.3v.4v.1m0 .4v1.8v.1v1.1v.2v.2v.3v.2v.2v.2v.7v1.2v1.2v.1v.9v.4v.9v.3v.3v.5v.3v.4v.3v.3v.2v.5v.4v.2v.1v.8v.2v1.1v.4v.9v.5v.6v.6v.3v.1v.1v.3v.3v.2m0 .1v1.8v.6v.3v.3v.9v.3v.7v.3v.4v.4v.6v.3v.5v.2v.2v.5v1.3v1.4v.3v.5v.2v1.2m0 .1v1.8v.6v1.1v.7v.4v.2v.2v.1v.8v.3v.1v.2v.1v.1v.3v.1v.6v.3v.2v.2m0 .4v1.8v.5v.3v.6v1.4v.7v.2v1.2v.9m0 .4v1.8v1v.1v.1v.1v.1v.3v.3m0 .9v1.8v.1m0 .2v1.8v.1v.2v.2v.1v1.8v.1v.6v.9v.7v.4v.2v.2v.5v.5v1.1v.4v.5v.8v.3v.7v.6v1.4v.6v.8v.6v.3v.5v.3v.1v.1v.1v1.5M546.2 30.6v1.8v1.2m0 .7v1.8v.6v.7v.3v.9v.2v.1v1.1v.4v.2v1v.9m0 .7v1.8v.9v.3v.1v1.1v.2v.2v.2v.3v.8v.2v.3v.2v.6v.6v.1v.1v.3v.5v.2v1.2v.5v.6v.3v1.5v.1v.1v.5v.9v.4v.9v.4v.4v.8v.6v1.3v1.6m0 .8v1.8v.4v.1v.4v.5v.2v.1v.8v1.1v.8v.4v.3v.3v.1v.1v.2v.6v.4v.3v.3v.3v.4v1v.8v1.4v.1v.5v.6v.4v.8v.6v1.2v.8v.1v.5v.9v.2v.4v.2v1v1v.5v.2v.2v.5v.8v.1v.3v.9v.6v.1v.1v.3v.1v.7v.3v1.3v.5v.1v.3v.8v1v.3v1v.4v.2v.5v.3v.8v.7v.4v.1v.2v.6v.3v.1v.4v.2v.2v1.2v.1v.9v1v.2m0 .1v1.8v.5v.1v1.3v.2v1M547 30.5v1.8v.8v.5v.6v.4v1.6v.5v.1v.6v.4v.5v1.1v.1v.2v.5v.1v.1v.1v.3v1.3v.7v.3v.7v.8v.5v.1v.4v.2v.4v.1v1.3v.6v1.2v.2v.1m0 .2v1.8v.4v1.1v.3v1v.1v.8v.3v1.4v1.6v.6v1v.6v.2v.5v.6v.3v.2v.1v.6v.4v.2v.1v1.6v.7v.8v1v.1v.2v.1v.3v.1v.5v.1m0 1.2v1.8v.8v.5v.1v.6v.5v.6v.7v.7v1.6v.3v.2v.4v.1v.8v.1v.3v.2v.5v.2v.3v.7v.1v.4v1v.3v.1v.2v1.2v.3v.1v1.8v.9m0 .5v1.8v.1v.5v.5v.5v.5v.5v.7v.6v.1v1.8v.6v.2v.1v.4v.4v.1v.2v.9v.4v.1v1.2v.3v.6v.2v.1v.8m0 .2v1.8v.8m0 .6v1.8v.4v.4v.6v.9v.6M547.7 29.4v1.8v.9v.9v.2v.7v.4v.1v.2v.4v1.2v.1v.7v.1v.8v.9v.5v.7v.1v.9v.1v.1v.6v1.1v.8v.5v.2m0 .1v1.8v.1v.5v1v.1v.1v1.1v.7v.1v.4v.4v.1v.4m0 .3v1.8v1.2v.1v.2v.7v.2v.5v1.2v.1v.2v.1v.2v.6v.9v.4v1.4v.2v.1v.3v.6v.2v.6v.2v.2v1.6v.2v1v.7v.3v.3v.4v1.1v.2v.1v1.2v1.7v.6v.4v.6v.2v.3v1v.2v.1v.5v.1v.2v.2v.2v.1v.2v.6v1.1v.7v1.4v.6v.8v.1v.2v.1v1v.1m0 .3v1.8v.1v.5v.1v.1v.1v.5v.1v.4v.3v.3v.5v1.2v.6v.2v.2m0 .6v1.8v.6v.1v.3v.2v.2v.7v.1v.5v.5v.1v.7m0 .7v1.8v.1v.4v.2v.5v.3v1.7v.3m0 .4v1.8v1.3v.2v1v1.1v1.2M548.4 29.6v1.8v.5v1.3v.2v.7v1v1.3v.2v.1v.1v.7v.2v.3v.6v.3v.1v.7v.8v.6v.9v1v1.2v.1v.9v.6v.5v.3v.1v.1v.5v.5v.1v.1v.2v1v.8v1.5v.7v.4v.5v.5v.7v.5v.8v.1v.1v.2v.8v.1v.2v.3v.1v.2v.4v.3v.2v.3v.5v.5v.1m0 .8v1.8v.5v.4v.9v.1v.2v1.3v.2v.1v.2v.1v1.3v.5v1v.1v.1v.8v.5v1.8v.1v.2v.4v.1v.6v1v.4m0 .1v1.8v.9v1.7v.5v.4v1v.5v.4v.5v.1v.3v.9v1.3v.2v.1v1.1m0 .1v1.8v.1v.2v.4v.8v.9v.2v.9v.6v.3v.1v.2v.1v.9v.3v.4v1v1.2v.2v.9v.4v.8v.2v1.7v.2v.2v1.5v.3v.2v.6v.7m0 1.2v1.8v.4v.2v.8M549 28.8v1.8v.7v.5v.1v.6v.6v.7v1.4v.4v.3v.9v.1v.9v.1v.3v.9v1.3v.2v.3v.4v1.1v.7v1.2v.8v1.5v.2v.4v.8v.1v.6v.4v.7v.3v1.1v.5v.5v.2v1v.6v1.2m0 .1v1.8v.4v.2v.1v.1v.2v.4v.9v.1v.1v.1v.8v1v.8v1.8v.4v.9v.1v.7v.1v.1v.1v.8v1.1v1v.4v.4v.1v.3v.2v.4v.8v.3v1.5v.3v.6v.9v.4v.3v.4v.2v.1v.5v.4v.2v1.4v.7v.4v.6v.2v.6v.5v.1v.1m0 .2v1.8v.2v1v.1v.3v.5v1v.4v.1v.6v1v.5v.2v.8v.5v.8v.1v.9v.5v.5v.1v.1v1.2v.7v.1v1.3v1.7v1.8v.3v.8v.4v.5v.2v1.8v1.8v1v.2v.1v.1M549.7 28v1.8v.6v.2v.1v.3v1.3v.7v1.3v1.5v.3v.3m0 1v1.8v.3v.4v.4v.2v.5v.4v.2v.4v.9v.5v.2m0 1.6v1.8v.5v.2v.2v.4v.2v.1v1.4v.2v.7v.5v.2v.8v1v.1v.2v.3v.8v.4v.3v.1v.5v.1v.3v.6v.5v.8v.1v.2v.7v.1v1.8v.1v.2v.5v.2v.2v.8v.1v.5v.1v.5v.5v.2v1v.1m0 .4v1.8v.5v.6v.1v.8v1.1v.6v.2v.4v1v1.8v1.2v.3v.2v.3v.4v.6v.1v1.8v.3v.1v.2v.6v.1v.1v.7v.1v.5v1.6v.5v.1v.3v.9v.6v.2v.1v.1v.1v1.7v.4v.7v.2m0 .5v1.8v.6v.2v1.6v.1v.2v.4m0 .2v1.8v.4v1.4v.3v.1v1.1m0 .3v1.8v.7v.3v.4v.1v.3v.2v.4v.2v.7v.1v.4v.1v.7M550.3 27.9v1.8v1.4v.4v.6v.1v1.1v1.4v1.1v.6v.2v1.2v.1v.2v.3v.4v.5v.9v1.6v.2v.6v.2v.6v.1v.4v.2v.2v.9v.3v.2v.2v1.1v.1m0 .1v1.8v.4v.1v.3v.1v.3v.2v.3v.7v.2v.6v1v.5v.2v.4v.1v1v.5v1v.5v.5v.1v1.3v1.2v.1v1.3v.3v1.5v1.2v.1v.2v1v.2v.1v.1v.6v1.5v.8v.6v1.2v1.8v.6v.3v1.4v.1v1.3v.2v.2v.3v.1v.3v.2v.9v.5v.3v.1v.2v.1v.8v.5v.1v1.3v.1v1.2v.1v.1v.1v.6v.6v.2v.7v.1v.2v1v.4v1.8v.3v1.7v.5v.1v1.7v.4v.2v1.4v.9v.1v.6v.6v.3v.3m0 .1v1.8m0 .1v1.8v.4v.5v1.2v1.4v.5M550.9 27.6v1.8v.4v.1v1.3v.3v.2v.9v.2v1.3v.8v.5v.3v.1v.3v.6v.6v.1v.3m0 .8v1.8v1.1v.8v.1v.5m0 .4v1.8v.2v.9v.2v.6v.1v1.8v.7v.4v.1v.7v.9v.1v.1v.7v1.1v.5v.1v1.3v.1v.5v.2v.3v.7v.2v.3v.1v1v.3v.2v.4v.1v1.2v.5v.3v.4v.3v1.1m0 .2v1.8v.3v.6v.3v1.2v.1v.7m0 .1v1.8v.3v.1v.4m0 .7v1.8v.2v.7v.5v.2v.8v.2v1v.2v.4v.6v.2v.5v.1v.7v.4v.1v.2v.1v.7v1.7v.1v.6v.4v.7v.3v.4v1.4v.1v.4v.1v.2v.7v.3v1.4v1v.1m0 .5v1.8v.9v1v.1v.2v.8v.4v.1v.4v.4v.1v.1v.1v.4v.2m0 .6v1.8v.8v1.6v.1v.2v.3v.5v.7v.2M551.5 27.6v1.8v.2v.3v.4v1.8v.6v.7v.2v.9v.6v.6v.6v.2v.2v.8v.7v.1v.7v.4m0 .5v1.8v.2v.1v.6v.2v.4v.3v.1v.4v.6v.2v.6v1.3v.2v.5v.1v.4v1.6v1.3v.3v.4v.5v.6v.3v.9v.4v.4v.5v.8v.2v.5v1.1v.1v1.1v.3v1v1.4v.1v.7v.2v.6v.2v.5v1.6v.6v.1v.1v.1v.3v1.6v.1v.4v.3v.1v.5v.8v.4v.4v.5v.7v.5v.4v.5v.5v.3v.4v1.2v.1v.3v1.5v.4v.4v1.3v.3v.1v.8v1.1v1.2v.1v.3v.2v.3v1v1.4v.5v1.3v.8v.2v.3v.3v.2v.1v.1v.4v.9v.8v.1v1.1v.7v.6v.3v.5v.9v.3v.3v.2v.3v.9v.5v1.5v.2v.3v.7v1.2v.2v.5v.8v.2M552.1 28v1.8v.6v.1m0 .1v1.8v1.3v.2v.1v.5v.7v.4v.3v.3v.2v.5v.2v.5v.3v.5v.4v.3v1.3v.7v.2v1.2v.8v.8v.9v.1v1v.6v.6v.2v.3v.3v.4v1.2v.7v.1v.7v.8v.3v.2v.1v1.4v.6v.5v1.4v.1v.2v.8v.5v1.2v.2v.2v1.2v.6v.5v.6v1.6v.3v.3v.2v.4v.8m0 .4v1.8v.1v.7v.2v.7v.3v.4v.2v.1v.5v.1v.5v.3v1.2v.7v.3v.4v1.3v.7v.4v.3v.1v.9v.5v.7v.9v.4v.3v.5v.4v1.1v.3v.2v.5v.8v.5v1.2v.6v.4v.1v.1v.7v.5v.3v1.4v.1v.8v.4v.2v.2v.2v.7v.2v.7v.6v.7v.1v.4v1.3v.5v1.8v.4v1.5v1.2v1.4M552.7 27.7v1.8v1.5v.4v.5v.8v.3v.5v.7v.1v.3v.2v.7v.6v1.5v.1v.3v.7v.1v.1v.7m0 .6v1.8v1v.6v.1v1.2v.6v.8v.3v1.3v.2v1.1v1.2v1.5v.3v.1v.5v.8v.4v.1v.3v.5v.3v.7v.2v.5v.2v.1v.1v.6v.3v1.7v.1v.1v.3v1.4v.3v.3v.4v1.1v.2v.2v.1v1.2v.5v.4v.2v.1v.1v.4v.3v.3v1.3v.2v.3v.2v.5v.5v.2v.1v.1v.7v.2v.4v.9v.2v.3v.2v1.1v1.3v.2v.3v.6v1.2v.4v.2v.3v.8m0 .2v1.8v.3v.1v1.1v.1m0 .4v1.8v1.6v.6v.1v.1v1v.2v.1v.1v.7v.6v.2v1.1v.2v1.4v.2v.4v1.8v.8v.1v.2v1v.8v.4v.5v.1v.1v1.4v.6v.9v.1M553.3 27.3v1.8v.7m0 .9v1.8v.5m0 .9v1.8v.1v.2v.2v.2v.1v.2v.3v.1v.6v.7v.8m0 1.7v1.8v.6v1.2v.3v.5v.3v1v.1v.4v.2v.2v.9v.3v.9v.5v.2v.3v.2v.2v.4v1.1v.8v.2v.2v.2v1.8v.4v.5v1v.4v.8v.2v.3v.1v1.4v.1v.1v.1v.3v.2v.5v.6v.2v.2v.2v.2v.6v.1v.2v.9v.5v.7v.4m0 .3v1.8v.3v.2v.2v.7v1.3v.3v.4v.4v.6v1.1v.2v.5v.7v.2v.1v.2v.7v.8v1.4v.2v.2v.5v.3v.6v.7v.8v1.1v1v1.7v.4v.1v.5v.1m0 .3v1.8v.1v.2v.3v.1v.9v.1v.2v.2v.8v1.2v.1v.1v.1v.5v.6v.4v.6v.1v1.4v.4v.2v.6v.8v.6v.9v.5v.5M553.9 26.1v1.8v.9v1.4v.4v.3m0 .4v1.8v.5v.1v.8v.4v.6v.5v1.5v.9v1.7v1.8v.1v.1v1.7v.6v.7v1.2v1v.5v.3v.2v1v.9v.2v.2v.5v.3v.6v.1v.2v.4v.6v.3v.9v.1v.7v1v.1v.1v1.2v1.5v.1v.3v1.3v.7v.5v.4v.3v1.2v.1v.2v.2v.5v.1v1.4v.5v.5v.5v.4v1.6v.2v.6v.3v.5v.1v.1v.5v.4v.9v.4v.2v.1v.1v.1v.2v1.1v.2v.2v.7v.5v.3v.8v.1v.9v.5v.8v.2v.2v1.4v.2v.8v1.5v.6v.6v.3v.5v.8v1.2v.1v.3v.3m0 .2v1.8m0 .6v1.8v.1v.2v.3v.4v.5v1.2v.1v.1v.3v.4v.8v1.6v.5v.2v.3v.9v.2M554.4 27v1.8v.6v.4v.6v.4v.2v.1v.8v.7v.8v.8v.1v.5v.1v.7v1.4v.3v.6v.6v1v.2v.1v.1v.2v1m0 .5v1.8v.5v.2v.4v.6v.2v1.8v.1v.2v.5v.3m0 .2v1.8v1v.2v.1v.6v.5v.9v.7m0 1v1.8v.1v.3v.6v.6v.4v1.4v1v.7v1.6v.2v.8v.1v.1v.1v.4v.3v.1v.3v1.1v.3v.1v.4v.1v.6v.4v.5v.3v.3v.8v.5v.3v.4v.3v.2v1.3v.1v.9v.4v.1v.7v.7v.1v.5v.2m0 .1v1.8v.1v.6v.1v.1v.3v.2v.6v.2v1.1v.2v.3v.9v.4v.2v.3v.6v1.6v1v.8v.7v.4v.2v.1m0 .2v1.8v.4v1.4v1.1m0 1.1v1.8v1.2v1.2v.1v.7M554.9 26.2v1.8v1.3v.3v.2v.2v.2v.6v.5v.3v1.6v.2v.3v1.7v.4v.5v.6v.1v1.6v1.2v.4v.2v.2v.5v1v.3m0 .3v1.8v.3v.1v1.2v.5v1.4v1v.7v.4v.4v.5v.3v.7v.5v.4v.6v.5v.7v1.6m0 .5v1.8v.1v.4m0 1.1v1.8v.3v1.4v.3m0 .5v1.8v.5v.5v.1v.2v.7v.8v.6v.6v1.3v.3v.7v.1v.3v.4m0 .2v1.8v.6v.1v.1v.6v.3v.1v.6v.3v1.1v.4v.2v.2v.2v.1v.4v.2v.1v.2v.4v.7v.4v.1v.6v.1v.1v.2v.2v.4v.1v.3m0 .2v1.8v.8v.1v.9v.6v.8v.1v.5v.5v.2v.2v.3v1.5v.7v.2v.9v.2v.9v.2v.4v.8v1.4v.9v.3v.5M555.5 26v1.8v.3v1.4v.2v.1m0 .5v1.8v.2v1.5v.5v.4v1.4v.3v.5v.6v.9v.3v.2v.6v.8v.1v.6v.2v.3v.4v.6v.2v.1v.3v.9v.3v.5v.2v.3v1.1v.7v.2v.5v1.8v.7v.2v.5v.4v1.1v.5v.4v.9m0 .5v1.8v.4v.2v.1v.1v.2v.2v.1v.1v.6v.3v.1v.3v.1v.4v.8v.7v.2v.1v.3v1.2v.8v.5v.4v1.6v.5v.7v.1v1v.1v1.1v.6v1.4m0 .7v1.8v.4v.5v1v.1v.1v1.3v1v.1v.7v.2v.4v1.1v.5v1v.6v.2v.2v.3v.2v.3v.8v.3v1.4v.3v.5v.6v1v.8v.2v.7v.8v.6v.4v1.7m0 1.2v1.8v.5v1v.1v.9M556 25.9v1.8v.6v.9v.3v.2v1.1v.2v1.6v.1v.2v.3v.3v.7v.7v1.1v.3v.3v1v.1v1.2v.6v.1v.4v.5v.2v.1v.2v.1v.5v1.2v.6v.1v.4v1.2v.1v.2v.7v.2v.1v.4v.3v.3v.9v.2v1.1v.4v1.5v.4m0 2.2v1.8v.4v.4v1v.3v1.2v.3v.8v.2v.8v.5v.1v.2v.6v.4v.6v.1v1.4v.5v.5v1.1v.1v.3v1.2v1.2v.9v.6v.2v.3v.9v.9v.4v.6v.3m0 2v1.8v.5v.1v1.7v.2m0 .1v1.8v.1v.2v.7v1.3v.1v.2v.4v.6v.2v1.7v.3v.9v.4v.1v.5v.2v.1v.1v.1v.4v.2v1v.1v.2v.3v.1v1.8v.3v.7v1.2M556.5 25.4v1.8m0 3.7v1.8v.3v1.3v.5v.6v.6v.4v.1v.3v1v.3v.4v.4v.6v.5v.5v.6v.3v1.5v1.2v.6v.6v.1v.6v.2v.3v.3v.3v.4v1.1v.3v.9v1.5v.5v.4v.4v1.1v.5v.5v.1v.1v1.8v.2v1v1.2m0 .1v1.8v.8v.4v.1v.2v.2v.1v1.1v.6v.4v.2v.5v.3v.5v.4v.2v.3v1.5v.1v1.5v.4v.2v.4v.1v.1v.2v.7v.7v.2v.2v.2v.2v1.1v.4v.7v.6v1.3v.8v.2v.9v1.5v.1v.1v.1v.3v.2v.2v1.4v.4v.4m0 .4v1.8v.1v.1v.3v.2v.1v.1v.3v.2v.4v.4v.8v.7v.2v.2v.3v.1v1.6v1.2v.2v.1v1.5v1.2v1.5v.5M557 25.1v1.8v.1v.2v.6v1.5v.3v.5v.8v.1v.3v.3v1.1v.8v.9v.6v.3v.9v.1v.2v.1v1.2v.5v.5v1v.7v.6v.5v.1v.3m0 .2v1.8v.5v.7v.6v.7v.3v.3v.2v.1v.5v.3v.4v.3v1.4v.2v.5v.2v.4v1.1v.1v.8v.3v.4v.7v.4v.8v1.5v1v.2v.2v.6m0 1.4v1.8v.8v.2v.3v.1v.2v.3v.1v.2v.1v.6v.2v.5v.3v.1v.3v.8v.2v.3v.7v.2v1.6v1.6m0 1.8v1.8v.8v.3v.1v.3v.2v.8v.4v.3v.1v.3v.2v.6v.7m0 .2v1.8v.6v.7v1.5v.8v.8v.1v.2v.5v.1v.8v.3v.9v.9v1.1v.1v.2v.8v1.2v.9v.2v.4v.1v.5v.1v.4v1" stroke="#000" stroke-width="0.85" fill="none" opacity="0.68"/>
<path d="M509.5 166.9v.7m0 .3v.7M512.3 162.4v.7v.2m0 2.2v.7m0 .3v.7v.4m0 .4v.7M514.8 160.3v.7v.6m0 .6v.7v.6m0 1.7v.7v.4v.4v.4M517.1 156.6v.7m0 .8v.7v.7m0 .8v.7m0 .1v.7v.3v.3M519.2 154v.7v.4m0 1.6v.7v.4v.1v.1m0 .7v.7M521.2 151.6v.7v.2v.5m0 .1v.7m0 .2v.7v.2m0 2.5v.7v.2v.1M523 150.6v.7m0 1.3v.7m0 .2v.7v.3v.7v.2m0 .6v.7v.2v.2v.3M524.7 146.3v.7m0 3.4v.7v.2v.4v.6m0 .3v.7v.1v.2m0 .1v.7v.3v.3v.6M526.4 145.1v.7v.1v.7v.6v.3m0 2.7v.7v.5v.4v.4v.2m0 .5v.7v.2v.4v.7M527.9 141.6v.7v.5v.7m0 .2v.7v.1v.7m0 .3v.7m0 .1v.7v.2m0 .2v.7v.1v.6m0 .6v.7v.6m0 .3v.7m0 1v.7M529.3 140.3v.7m0 .2v.7v.4v.1m0 1.3v.7m0 .5v.7m0 .2v.7v.7v.4m0 .8v.7v.1v.1m0 .3v.7v.3v.2v.2v.2v.4m0 .3v.7M530.7 137.5v.7v.7m0 .7v.7v.4v.6v.1m0 .8v.7m0 .5v.7v.3m0 .4v.7v.1v.2v.1m0 .6v.7m0 .1v.7v.2v.4v.1m0 1.2v.7v.4v.4M532 134.8v.7m0 .3v.7v.5m0 .1v.7m0 .3v.7m0 .1v.7m0 .5v.7v.6v.1v.2v.1m0 .8v.7v.2v.7v.6v.2v.7m0 .6v.7v.4m0 1.8v.7v.4M533.2 132.4v.7m0 .5v.7m0 .4v.7v.6v.4m0 .7v.7v.6v.4v.2v.5v.3v.2v.2m0 1.2v.7v.6v.6v.3v.4m0 1.8v.7v.1v.5v.3v.5m0 .3v.7M534.4 130.8v.7m0 .7v.7m0 .2v.7v.6v.6v.1m0 .9v.7v.1m0 .6v.7v.1v.2v.1m0 .8v.7v.6v.1v.3m0 .8v.7v.5v.2v.5v.4m0 1.6v.7v.4m0 .1v.7M535.5 128.3v.7m0 .4v.7v.6m0 .2v.7v.3v.2m0 1.8v.7m0 .1v.7v.1v.6m0 1.9v.7m0 .4v.7v.3v.1v.3m0 .5v.7v.1v.3m0 .6v.7m0 .1v.7v.2v.6v.2v.5v.7v.2M536.6 127.6v.7v.2m0 .1v.7v.7v.6m0 .4v.7v.4m0 1.2v.7v.6v.2v.3m0 .2v.7v.4v.4v.3v.5v.5v.4v.4v.5v.2m0 .3v.7m0 1.2v.7m0 .1v.7m0 .3v.7v.1v.3v.4v.2v.3M537.6 125.3v.7v.3v.1v.4v.3v.5m0 .7v.7v.2v.1m0 .6v.7v.1v.1m0 .2v.7v.4m0 .3v.7m0 .2v.7v.6m0 .7v.7v.1m0 .1v.7m0 .9v.7v.2v.3v.3v.4v.6v.1v.2m0 .1v.7v.7m0 1.2v.7M538.6 123.3v.7m0 .1v.7v.7m0 .5v.7v.1v.2m0 1.8v.7v.7v.7v.1m0 .2v.7v.3v.2m0 1v.7v.6m0 .6v.7v.2v.4v.1v.1v.5v.2v.3v.3v.5m0 .9v.7v.4v.3v.2v.1m0 .1v.7v.2v.2M539.6 121.4v.7v.2v.4v.5m0 .1v.7v.4m0 .2v.7m0 .4v.7m0 .2v.7v.7m0 .1v.7m0 .4v.7v.7v.6v.2v.2v.3m0 1.1v.7m0 1.5v.7v.3v.4v.4v.1v.5v.6v.3m0 .7v.7v.6m0 .1v.7M540.5 120.6v.7m0 1v.7v.3v.2v.1v.2v.3m0 1.1v.7v.6v.2m0 .3v.7m0 .4v.7m0 .6v.7v.1v.1v.6m0 .4v.7m0 .1v.7v.6v.1m0 .1v.7m0 .4v.7m0 1.5v.7v.4v.2v.4v.1m0 .4v.7v.5M541.4 118.7v.7m0 .1v.7m0 .1v.7m0 .2v.7v.2v.6v.4v.2v.1v.6v.2v.6m0 .9v.7m0 1.3v.7v.7v.7v.3v.1m0 .1v.7v.1v.1m0 2.7v.7v.2v.1v.2v.2v.5m0 .4v.7v.6v.4v.2v.2v.2v.2M542.3 116.6v.7m0 .6v.7v.4v.2v.1v.4m0 .4v.7v.3v.3m0 .2v.7m0 .2v.7m0 .1v.7v.1v.7m0 1.1v.7m0 1v.7v.1v.6v.6m0 .9v.7m0 .2v.7m0 .5v.7v.2v.4v.2v.4v.6m0 .9v.7v.6v.3v.4v.2v.1M543.1 117.8v.7v.4v.3v.5m0 .7v.7m0 .1v.7m0 1.9v.7v.1v.1m0 .4v.7m0 .3v.7v.5v.4v.1v.1v.4v.1m0 .3v.7m0 .3v.7v.2v.6v.1v.1v.4v.6v.3v.6m0 .9v.7v.2m0 .3v.7m0 .4v.7M543.9 114.8v.7m0 .3v.7v.1m0 .4v.7v.1v.2v.4v.3v.3m0 .1v.7m0 .1v.7v.2v.5m0 .1v.7v.1v.4v.1v.1v.6v.4m0 .4v.7v.3m0 .5v.7v.3v.3m0 .1v.7m0 .3v.7m0 .8v.7v.1v.1m0 .1v.7m0 .5v.7v.7v.7v.5v.5v.6M544.7 112.9v.7m0 .1v.7v.3v.4m0 .4v.7v.3v.1v.7v.7v.7m0 .5v.7v.3v.4m0 .6v.7v.4m0 .6v.7m0 .3v.7v.1v.1v.3v.3m0 .2v.7m0 1.2v.7v.3m0 .1v.7v.2m0 .2v.7v.4v.6v.4m0 .4v.7v.7v.4M545.5 111.2v.7m0 .3v.7v.1v.5v.1v.7v.2m0 .4v.7m0 .2v.7v.5v.2v.1m0 .9v.7m0 .5v.7m0 .3v.7m0 .1v.7v.5v.4v.1m0 .4v.7m0 .3v.7v.2v.6v.3v.6v.1v.5m0 .3v.7v.2v.3v.4m0 .3v.7m0 .1v.7v.2v.3v.7v.4M546.2 110.5v.7v.5v.2v.3m0 .1v.7v.3v.3v.6m0 .7v.7v.2m0 .1v.7v.4m0 .6v.7v.1v.6m0 .6v.7v.1v.1v.4m0 .1v.7v.1m0 .3v.7v.6m0 .2v.7v.1v.3v.7m0 .7v.7v.6v.1v.1m0 .9v.7v.1v.6v.3v.2v.6M547 108.9v.7v.3v.3m0 2.1v.7v.2v.7m0 .1v.7m0 .3v.7v.6v.1v.2m0 1.2v.7v.1v.1v.6v.4v.1v.3v.7v.2m0 .6v.7v.5m0 .5v.7v.5v.3v.4v.1v.4v.5v.4m0 .4v.7v.4v.2m0 .1v.7M547.7 107.9v.7v.6m0 .9v.7m0 .4v.7m0 2.6v.7m0 .1v.7m0 .1v.7v.4v.5m0 .1v.7v.2v.1v.3v.2m0 .1v.7v.1v.4v.2v.2v.5v.3v.5v.4v.3v.1v.3v.3m0 .4v.7v.2m0 1.1v.7v.7v.2v.1M548.4 106.9v.7v.6m0 .3v.7v.3v.6m0 .5v.7v.3m0 .9v.7v.3v.1v.1v.2m0 .3v.7m0 2.3v.7v.3m0 .1v.7v.6v.3m0 .6v.7v.4v.1v.2m0 .8v.7v.1v.2v.5v.1v.3v.1v.7v.6v.3v.2v.6M549 107.3v.7v.4m0 .1v.7v.1m0 .5v.7v.1v.4v.7m0 1.3v.7v.1m0 .5v.7v.6v.1v.2v.2v.4m0 .5v.7v.1v.1v.5m0 .2v.7v.1v.1m0 .7v.7m0 .2v.7m0 .1v.7v.3m0 1.1v.7v.7v.3v.3M549.7 105v.7m0 .7v.7v.2m0 2.1v.7v.2v.1m0 .8v.7v.6v.1m0 .2v.7v.4v.1v.4v.2v.2v.1m0 .2v.7v.6v.5v.1v.2v.1v.2v.3v.1v.3v.5m0 2.5v.7v.1v.2v.2v.2v.4v.3v.4M550.3 104.6v.7m0 .1v.7v.4v.1m0 .1v.7m0 .5v.7m0 2.1v.7v.6v.4v.3v.5v.1v.4v.2v.3v.4v.3v.3m0 .4v.7v.4v.1v.4v.2m0 .7v.7v.4v.2v.3v.4v.4m0 .5v.7v.4v.4v.1v.3M550.9 106v.7v.2m0 .1v.7v.6v.3m0 .6v.7v.6v.5v.1v.4v.3m0 .5v.7v.2v.3v.3v.1m0 .3v.7v.1v.6m0 .5v.7v.2v.6v.4v.4v.2m0 .6v.7v.1v.7v.1v.5v.4v.3M551.5 102.6v.7m0 .3v.7v.7m0 .2v.7v.6m0 .7v.7m0 .5v.7v.1v.1v.4v.1m0 .1v.7v.3m0 .7v.7m0 .1v.7v.4v.1v.1v.3v.2v.4m0 .3v.7v.1v.4v.6v.1v.2m0 .9v.7v.5v.4v.1v.7v.5M552.1 101.5v.7m0 .3v.7m0 .4v.7m0 .3v.7m0 .2v.7v.3v.1v.2v.3m0 .4v.7v.5v.4v.6v.1v.6v.1m0 .5v.7v.1v.2v.3m0 .6v.7v.1v.7v.3v.1m0 .4v.7v.1v.3v.2v.5m0 1.2v.7v.1v.3M552.7 101.6v.7v.4v.3v.1v.3v.1v.1v.2v.4m0 .1v.7m0 .5v.7v.1v.3v.6v.3v.1v.3m0 1.6v.7m0 .1v.7m0 .6v.7v.6v.4v.1v.2v.5v.3v.4m0 .1v.7m0 .3v.7m0 .2v.7v.4v.6v.1M553.3 99.8v.7m0 .2v.7v.6m0 .8v.7v.4m0 .3v.7v.5m0 .3v.7v.7v.6v.5m0 .7v.7v.1v.1v.1v.4v.6m0 .6v.7m0 .1v.7m0 .6v.7v.1v.2v.4v.1v.4v.1m0 .2v.7v.5v.1M553.9 99.8v.7m0 1.4v.7v.6v.7v.4v.6v.2v.5v.4v.6v.2m0 .2v.7v.2m0 .2v.7v.5m0 1.3v.7v.1m0 .1v.7m0 .1v.7m0 .3v.7m0 .6v.7v.2v.4v.2v.1M554.4 99.3v.7m0 .1v.7v.3v.6v.3v.4v.2m0 .6v.7m0 .4v.7v.6m0 1v.7m0 .3v.7v.2v.1v.2v.2m0 .3v.7v.3v.5v.5v.7v.4v.3v.1v.2v.2v.1v.6v.1m0 .3v.7M554.9 98.3v.7v.3v.3v.4v.5m0 .6v.7v.5v.3m0 .3v.7v.1v.1v.6v.1v.3v.4v.3m0 .3v.7v.5v.4v.3v.4m0 .5v.7v.2v.2m0 1.4v.7v.3v.2v.3v.5v.4M555.5 98.2v.7m0 2.5v.7m0 .3v.7v.1v.2m0 .1v.7v.4v.4v.1v.5v.3v.2v.3v.4v.1v.1v.5m0 .3v.7v.2v.6v.6v.2v.5v.3v.4v.1m0 .8v.7v.2M556 97v.7v.2m0 2.3v.7v.6v.1v.7v.2v.1v.1v.2m0 .2v.7v.3v.5v.6v.2v.5v.2m0 .2v.7v.4v.7v.2m0 1.1v.7v.3v.1v.2m0 .2v.7M556.5 97.7v.7v.1m0 .4v.7m0 .9v.7v.7v.7v.5v.7v.4v.1v.7v.3m0 .7v.7v.2v.1v.5v.7v.7v.1v.3v.3v.5M557 96.3v.7m0 .8v.7v.1v.1v.1v.2v.1m0 .3v.7m0 .5v.7v.1v.3m0 .4v.7v.1v.1v.5v.7v.2v.2v.2v.4v.1m0 1.4v.7v.1v.3v.1m0 .2v.7" stroke="#000" stroke-width="0.85" fill="none" opacity="0.6"/>
<polygon points="558.4,23.5 576,16.8 595,10.5 606,6.2 615.5,1.5 625.8,1.5 626.2,3.3 626.5,14.4 625.6,22.6 623.5,32 618.4,38.5 614.9,41.8 608.2,50 604,57.4 600,64 591.6,71.7 584.6,77.5 577.7,83 570.8,89.2 563.9,96.9 558.4,104.6" fill="#f00"/>
<path d="M559.9 102.6v.6M560 21.9v.6M560.6 22.3v.6M560.9 21.9v.6M561.9 21.4v.6M561.9 99.4v.6M562.3 98.9v.6M562.6 98.9v.6M562.7 21.5v.6M564.2 97v.6M564.4 20.4v.6M564.7 95.8v.6M565.7 94.9v.6M566 94.9v.6M566.2 94.4v.6M567.7 93.1v.6M567.8 92.8v.6M568.3 19.3v.6M568.7 18.6v.6M569.4 90.6v.6M570.7 18.3v.6M571.9 88.3v.6M572.4 17.4v.6M572.7 17.7v.6M572.8 87.8v.6M573.3 87.5v.6M573.4 86.8v.6M573.9 16.9v.6M574.5 86.1v.6M574.7 16.2v.6M574.7 85.4v.6M575.1 85.8v.6M575.3 16.7v.6M575.6 84.8v.6M575.6 84.9v.6M576.3 16.4v.6M576.4 84.6v.6M576.6 84.8v.6M577.2 15.9v.6M577.3 83.9v.6M578.5 82.2v.6M579.1 81.9v.6M579.3 81.8v.6M579.9 15v.6M580.4 15v.6M580.5 80.9v.6M581.1 14.8v.6M582.6 13.9v.6M582.8 79.3v.6M583.4 13.9v.6M583.5 13.7v.6M583.7 13.2v.6M583.7 13.9v.6M584.3 13.6v.6M584.3 13.7v.6M584.6 77.3v.6M585.4 13.2v.6M585.5 12.7v.6M586.8 76.1v.6M586.9 12.8v.6M587.5 11.9v.6M589.4 11.7v.6M589.9 73v.6M590.5 11.1v.6M591.3 10.8v.6M591.6 10.6v.6M591.7 10.8v.6M592.5 10.4v.6M594 69.7v.6M594.1 10.2v.6M594.2 69.9v.6M594.8 10.2v.6M595.6 9.4v.6M595.7 9.7v.6M595.7 67.8v.6M596.4 9.2v.6M596.6 67.4v.6M596.7 66.8v.6M598.5 8.4v.6M598.5 65.8v.6M599.3 64.6v.6M599.5 8.2v.6M599.8 64.4v.6M601.6 61.2v.6M601.8 7.4v.6M602.3 6.9v.6M602.5 6.8v.6M602.7 6.9v.6M603.7 6.7v.6M603.7 58.5v.6M604 58v.6M604.2 57.9v.6M604.3 6.3v.6M604.4 57v.6M604.5 6.1v.6M604.8 6.1v.6M605.8 55.3v.6M606 55.2v.6M606.1 54.9v.6M606.2 5.6v.6M606.5 53.9v.6M606.7 5.5v.6M607.1 53v.6M607.5 51.2v.6M607.6 4.4v.6M607.6 4.9v.6M608 4.6v.6M608.8 49.6v.6M608.8 49.8v.6M609 49v.6M609.9 3.9v.6M610.3 3.7v.6M610.4 47.2v.6M610.8 3.1v.6M611 46.4v.6M611.4 45.9v.6M611.5 3v.6M611.5 46.7v.6M613 43.9v.6M613.6 1.4v.6M613.6 43.6v.6M614.5 42v.6M614.7 1.2v.6M614.9 42v.6M615.5 1.2v.6M615.5 41.5v.6M616.5 40v.6M617.5 .7v.6M617.5 1v.6M617.7 1v.6M618.4 38.3v.6M619.7 37v.6M619.7 37v.6M619.8 37.5v.6M620.4 .9v.6M621.7 34.9v.6M622.5 33.1v.6M624.1 1v.6M624.6 29v.6M624.7 27v.6M624.8 26v.6M624.8 27.5v.6M625.8 20.7v.6M626 1.7v.6M626.1 23.8v.6M626.2 4.2v.6M626.2 22.8v.6M626.3 20.9v.6M626.3 21v.6M626.5 7.4v.6M626.5 10.5v.6M626.5 14.5v.6M626.6 6.5v.6M626.6 10.2v.6M626.6 10.5v.6M626.9 17.8v.6M627.1 10.1v.6M627.3 14v.6" stroke="#f00" stroke-width="0.7" fill="none" opacity="0.8"/>
<path d="M558.3 102.8v.5M559 23.2v.5M559.1 23v.5M559.3 102.8v.5M559.4 102.5v.5M559.8 101.1v.5M559.9 101.3v.5M563.4 96.5v.5M564.2 95.7v.5M565.5 20.6v.5M566.5 92.3v.5M566.9 20.3v.5M567.3 92.4v.5M568 91.4v.5M569.7 19.2v.5M572 18.8v.5M572.2 87.6v.5M573.2 85.4v.5M573.6 85.3v.5M574.2 18v.5M574.7 85.1v.5M574.9 84v.5M575.3 17v.5M576.8 83v.5M577.5 82.5v.5M580.6 16v.5M580.8 79.2v.5M580.9 14.9v.5M581.2 15.5v.5M582.5 78.2v.5M583.5 14.2v.5M585.6 13.9v.5M586.3 13.2v.5M587.3 74.6v.5M589.9 72.8v.5M591.5 71.4v.5M592.7 11.5v.5M592.8 69.3v.5M593 70v.5M593.4 11.1v.5M595.6 67.4v.5M596.9 10.3v.5M597.4 9.8v.5M597.8 65.6v.5M600.1 62.7v.5M600.4 62v.5M602.4 59.7v.5M603.5 56.3v.5M603.8 55.5v.5M604.1 7.2v.5M604.6 54.4v.5M604.9 6.4v.5M605.5 6.6v.5M606.4 52.8v.5M607.2 6.4v.5M607.6 50.2v.5M607.7 49.6v.5M607.8 5v.5M608.3 5v.5M609.1 48.2v.5M609.6 4.2v.5M609.9 47.6v.5M610.6 4v.5M610.6 46.7v.5M612.2 44.7v.5M612.6 44.1v.5M612.8 3.1v.5M615.4 40.2v.5M615.8 2v.5M616.3 40v.5M616.4 38.7v.5M617 2v.5M618.2 1.2v.5M618.7 36.7v.5M618.8 36.4v.5M619.1 1.5v.5M619.4 1.7v.5M619.6 36.6v.5M619.7 36v.5M619.8 35.3v.5M619.9 2.2v.5M619.9 36.2v.5M621.3 33.3v.5M621.5 33.6v.5M622 33.5v.5M622.3 32.7v.5M623.2 29.3v.5M623.3 31.9v.5M623.5 31.7v.5M623.9 28.6v.5M624.4 1.2v.5M624.5 23.3v.5M624.7 25.9v.5M625 1.7v.5M625.1 19.8v.5M625.1 24.1v.5M625.3 16.4v.5M625.4 6.2v.5M625.4 9.7v.5M625.9 10v.5M625.9 18.8v.5M626 3.1v.5M626.1 4.5v.5M626.2 9.4v.5M626.2 11.6v.5M626.3 15.3v.5" stroke="#fff" stroke-width="0.6" fill="none" opacity="0.6"/>
<path d="M562.3 90.3v.6M562.4 90.2v.6M562.8 89.8v.6M564 89.1v.6M564.1 88.1v.6M564.1 90.7v.6M564.6 86.6v.6M565 86.8v.6M565.7 87.2v.6M565.8 86.3v.6M565.8 86.5v.6M566.1 88.7v.6M566.2 85.2v.6M566.5 87.7v.6M567 85.5v.6M567 87.8v.6M567.2 87v.6M567.7 84.1v.6M568 85.5v.6M568.6 85.8v.6M568.8 86.2v.6M569.4 84.5v.6M569.7 83.5v.6M569.8 84v.6M569.8 84v.6M569.9 83.1v.6M570.6 83.3v.6M571.3 83.9v.6M571.8 82.4v.6M571.9 82.1v.6M572.1 83.8v.6M572.6 82.3v.6M573.1 79.2v.6M574.4 78.1v.6M574.4 80.7v.6M574.5 78.7v.6M574.6 78.8v.6M574.6 79.6v.6M574.9 78.3v.6M575 79.3v.6M575.4 78.4v.6M576.4 79.5v.6M576.9 78.7v.6M577 77v.6M577.1 76.6v.6M577.9 78v.6M578.2 76.3v.6M578.4 78v.6M578.7 75.1v.6M578.8 77.4v.6M579.1 75.6v.6M579.3 73.9v.6M579.4 74.6v.6M580 72.8v.6M580 76.6v.6M580.6 72.8v.6M580.6 74.1v.6M580.6 74.3v.6M580.8 73.1v.6M580.8 74.5v.6M581.1 72.9v.6M581.2 74.3v.6M581.4 72.3v.6M581.4 73v.6M581.6 72.2v.6M581.8 74.6v.6M582.4 72.6v.6M582.5 74.7v.6M582.9 71.6v.6M583 71.4v.6M583.6 71.4v.6M584.1 69.5v.6M584.5 70.8v.6M584.5 70.9v.6M585 69.7v.6M585.4 71.5v.6M585.5 69.3v.6M585.5 70.8v.6M585.5 71.1v.6M585.5 71.1v.6M585.6 70.5v.6M586.1 69.9v.6M586.2 71.4v.6M586.4 67.1v.6M587.2 68.6v.6M587.3 68.9v.6M587.3 69.7v.6M587.6 69.2v.6M587.9 67.3v.6M588 69.7v.6M588.3 65.5v.6M588.5 67.7v.6M589 65.5v.6M590 64.2v.6M591.3 64v.6M591.6 64.6v.6M591.7 64.3v.6M591.8 64.8v.6M592.1 65.3v.6M592.2 64.1v.6M592.2 65.9v.6M592.4 63.9v.6M592.4 64.8v.6M592.5 63.5v.6M592.7 64.4v.6M593.2 65.3v.6M593.4 64.6v.6M593.5 61.4v.6M593.5 62.7v.6M593.5 63.2v.6M593.8 62.7v.6M593.9 64.7v.6M594.4 62v.6M594.5 63v.6M594.6 60.7v.6M595 62.1v.6M595.5 63.6v.6M595.9 62.7v.6M596.6 62.5v.6M597.9 60.4v.6" stroke="#fff" stroke-width="0.6" fill="none" opacity="0.5"/>
<path d="M561.3 97.8v.6M562.4 93.8v.6M563.7 95.7v.6M563.8 93.5v.6M564 94.5v.6M564.7 94.2v.6M564.9 91.2v.6M565.3 94.4v.6M566.6 89.7v.6M567.1 88.2v.6M567.6 89.1v.6M567.6 91.5v.6M567.7 91.1v.6M568.5 87.7v.6M569.2 88.8v.6M569.7 87v.6M570.8 85.7v.6M570.9 87.8v.6M571.5 86.6v.6M571.7 85.9v.6M574.8 82.1v.6M575.7 81.5v.6M577.2 82.9v.6M577.7 80.5v.6M579.1 79.4v.6M579.4 79.6v.6M579.6 78.7v.6M579.7 79.4v.6M579.9 78.2v.6M579.9 78.6v.6M581.5 79.7v.6M582.7 75.4v.6M582.9 74.5v.6M582.9 76v.6M584 74.2v.6M584.8 77.2v.6M585.3 72.7v.6M587.5 73.9v.6M588.1 70.7v.6M589.4 69.2v.6M591.4 69.5v.6M591.5 70.2v.6M591.7 69.5v.6M592.9 66.2v.6M593.3 68.9v.6M593.9 65.3v.6M594.7 67.3v.6M595.2 65v.6M595.4 65.2v.6M595.6 65.8v.6" stroke="#fff" stroke-width="0.6" fill="none" opacity="0.5"/>
<path d="M559.1 45.3v.6M560.1 39v.6M560.7 28.3v.6M561.1 23.9v.6M561.6 46.8v.6M562.6 44.2v.6M563 32v.6M565.5 32.3v.6M566.3 41.5v.6M567.6 26v.6M570.8 30.8v.6M572.6 29.3v.6M572.9 39.2v.6M574 37v.6M576.1 39.3v.6M578.7 35.7v.6M579 22.3v.6M579.6 18.9v.6M586 27.9v.6M589.3 20.2v.6M592 30.2v.6M593.9 18.8v.6M599.3 16.9v.6M599.9 22.7v.6M605.3 9.1v.6M606.6 15.5v.6M607.6 16.2v.6M610 8.9v.6M613.3 3.2v.6M615.1 8.8v.6" stroke="#fff" stroke-width="0.7" fill="none" opacity="0.5"/>
<path d="M469.4 128.3L558.6 53.5" stroke="#1a1a1a" stroke-width="1.05" fill="none" opacity="1.0"/>
<path d="M558.6 53.5L626 12.4" stroke="#fff" stroke-width="0.7" fill="none" opacity="0.85"/>
</g>
<path d="M471 162.1v-1.2M471 1.5v1.2M474.5 162.1v-1.2M474.5 1.5v1.2M477.6 162.1v-1.2M477.6 1.5v1.2M480.4 162.1v-2.2M480.4 1.5v2.2M498.8 162.1v-1.2M498.8 1.5v1.2M509.5 162.1v-1.2M509.5 1.5v1.2M517.1 162.1v-1.2M517.1 1.5v1.2M523 162.1v-1.2M523 1.5v1.2M527.9 162.1v-1.2M527.9 1.5v1.2M532 162.1v-1.2M532 1.5v1.2M535.5 162.1v-1.2M535.5 1.5v1.2M538.6 162.1v-1.2M538.6 1.5v1.2M541.4 162.1v-2.2M541.4 1.5v2.2M559.8 162.1v-1.2M559.8 1.5v1.2M570.5 162.1v-1.2M570.5 1.5v1.2M578.1 162.1v-1.2M578.1 1.5v1.2M584 162.1v-1.2M584 1.5v1.2M588.9 162.1v-1.2M588.9 1.5v1.2M593 162.1v-1.2M593 1.5v1.2M596.5 162.1v-1.2M596.5 1.5v1.2M599.6 162.1v-1.2M599.6 1.5v1.2M602.4 162.1v-2.2M602.4 1.5v2.2M620.8 162.1v-1.2M620.8 1.5v1.2M631.5 162.1v-1.2M631.5 1.5v1.2M639.1 162.1v-1.2M639.1 1.5v1.2M645 162.1v-1.2M645 1.5v1.2M649.9 162.1v-1.2M649.9 1.5v1.2M654 162.1v-1.2M654 1.5v1.2M657.5 162.1v-1.2M657.5 1.5v1.2M660.6 162.1v-1.2M660.6 1.5v1.2M469.4 156.4h1.2M663.8 156.4h-1.2M469.4 152.2h1.2M663.8 152.2h-1.2M469.4 148.5h1.2M663.8 148.5h-1.2M469.4 145.3h1.2M663.8 145.3h-1.2M469.4 142.4h2.2M663.8 142.4h-2.2M469.4 123.4h1.2M663.8 123.4h-1.2M469.4 112.3h1.2M663.8 112.3h-1.2M469.4 104.5h1.2M663.8 104.5h-1.2M469.4 98.4h1.2M663.8 98.4h-1.2M469.4 93.4h1.2M663.8 93.4h-1.2M469.4 89.2h1.2M663.8 89.2h-1.2M469.4 85.5h1.2M663.8 85.5h-1.2M469.4 82.3h1.2M663.8 82.3h-1.2M469.4 79.4h2.2M663.8 79.4h-2.2M469.4 60.4h1.2M663.8 60.4h-1.2M469.4 49.3h1.2M663.8 49.3h-1.2M469.4 41.5h1.2M663.8 41.5h-1.2M469.4 35.4h1.2M663.8 35.4h-1.2M469.4 30.4h1.2M663.8 30.4h-1.2M469.4 26.2h1.2M663.8 26.2h-1.2M469.4 22.5h1.2M663.8 22.5h-1.2M469.4 19.3h1.2M663.8 19.3h-1.2M469.4 16.4h2.2M663.8 16.4h-2.2" stroke="#8a8a8a" stroke-width=".6" fill="none"/>
<rect x="469.4" y="1.5" width="194.4" height="160.6" fill="none" stroke="#8e8e8e" stroke-width=".75"/>
<text x="27.5" y="175.4" font-size="10.4" fill="#1a1a1a" stroke="#1a1a1a" stroke-width="0.22">10<tspan font-size="7.6" dy="-4.3" dx=".7">-2</tspan></text>
<text x="107.9" y="175.4" font-size="10.4" fill="#1a1a1a" stroke="#1a1a1a" stroke-width="0.22">10<tspan font-size="7.6" dy="-4.3" dx=".7">-1</tspan></text>
<text x="194.3" y="175.4" font-size="10.4" fill="#1a1a1a" stroke="#1a1a1a" stroke-width="0.22">10<tspan font-size="7.6" dy="-4.3" dx=".7">0</tspan></text>
<text x="248.6" y="175.2" font-size="10.4" fill="#1a1a1a" stroke="#1a1a1a" stroke-width="0.22">10<tspan font-size="7.6" dy="-4.3" dx=".7">-2</tspan></text>
<text x="314" y="175.2" font-size="10.4" fill="#1a1a1a" stroke="#1a1a1a" stroke-width="0.22">10<tspan font-size="7.6" dy="-4.3" dx=".7">-1</tspan></text>
<text x="373.1" y="175.2" font-size="10.4" fill="#1a1a1a" stroke="#1a1a1a" stroke-width="0.22">10<tspan font-size="7.6" dy="-4.3" dx=".7">0</tspan></text>
<text x="431" y="175.2" font-size="10.4" fill="#1a1a1a" stroke="#1a1a1a" stroke-width="0.22">10<tspan font-size="7.6" dy="-4.3" dx=".7">1</tspan></text>
<text x="468.9" y="175.4" font-size="10.4" fill="#1a1a1a" stroke="#1a1a1a" stroke-width="0.22">10<tspan font-size="7.6" dy="-4.3" dx=".7">-2</tspan></text>
<text x="534.5" y="175.4" font-size="10.4" fill="#1a1a1a" stroke="#1a1a1a" stroke-width="0.22">10<tspan font-size="7.6" dy="-4.3" dx=".7">-1</tspan></text>
<text x="593.8" y="175.4" font-size="10.4" fill="#1a1a1a" stroke="#1a1a1a" stroke-width="0.22">10<tspan font-size="7.6" dy="-4.3" dx=".7">0</tspan></text>
<text x="651.5" y="175.4" font-size="10.4" fill="#1a1a1a" stroke="#1a1a1a" stroke-width="0.22">10<tspan font-size="7.6" dy="-4.3" dx=".7">1</tspan></text>
<text x="17.5" y="65.8" font-size="10.4" fill="#1a1a1a" stroke="#1a1a1a" stroke-width="0.22">10<tspan font-size="7.6" dy="-4.3" dx=".7">2</tspan></text>
<text x="17.5" y="142.9" font-size="10.4" fill="#1a1a1a" stroke="#1a1a1a" stroke-width="0.22">10<tspan font-size="7.6" dy="-4.3" dx=".7">1</tspan></text>
<text x="230.5" y="15.8" font-size="10.4" fill="#1a1a1a" stroke="#1a1a1a" stroke-width="0.22">10<tspan font-size="7.6" dy="-4.3" dx=".7">3</tspan></text>
<text x="230.5" y="80.8" font-size="10.4" fill="#1a1a1a" stroke="#1a1a1a" stroke-width="0.22">10<tspan font-size="7.6" dy="-4.3" dx=".7">2</tspan></text>
<text x="230.5" y="147.7" font-size="10.4" fill="#1a1a1a" stroke="#1a1a1a" stroke-width="0.22">10<tspan font-size="7.6" dy="-4.3" dx=".7">1</tspan></text>
<text x="452.4" y="22" font-size="10.4" fill="#1a1a1a" stroke="#1a1a1a" stroke-width="0.22">10<tspan font-size="7.6" dy="-4.3" dx=".7">3</tspan></text>
<text x="452.4" y="83.8" font-size="10.4" fill="#1a1a1a" stroke="#1a1a1a" stroke-width="0.22">10<tspan font-size="7.6" dy="-4.3" dx=".7">2</tspan></text>
<text x="452.4" y="146.6" font-size="10.4" fill="#1a1a1a" stroke="#1a1a1a" stroke-width="0.22">10<tspan font-size="7.6" dy="-4.3" dx=".7">1</tspan></text>
<text x="39.3" y="17" font-size="11.5" font-weight="bold" fill="#000" textLength="62.7" lengthAdjust="spacingAndGlyphs" stroke="#000" stroke-width="0.22">‘ma’ (Loud)</text>
<text x="256.1" y="15.2" font-size="11.5" font-weight="bold" fill="#000" textLength="53.1" lengthAdjust="spacingAndGlyphs" stroke="#000" stroke-width="0.22">‘ti’ (Loud)</text>
<text x="475.1" y="17.4" font-size="11.5" font-weight="bold" fill="#000" textLength="73.5" lengthAdjust="spacingAndGlyphs" stroke="#000" stroke-width="0.22">Cough (Loud)</text>
<text x="168.9" y="84.1" font-size="11" fill="#f00" textLength="51.4" lengthAdjust="spacingAndGlyphs" stroke="#f00" stroke-width="0.22">Puff Phase</text>
<text x="99.8" y="133.9" font-size="11" fill="#1a1a1a" textLength="65.9" lengthAdjust="spacingAndGlyphs" stroke="#1a1a1a" stroke-width="0.22">Jetting Phase</text>
<g transform="translate(10.4 139.8) rotate(-90)">
<text y="0" font-size="11.5" fill="#1a1a1a" stroke="#1a1a1a" stroke-width=".22"><tspan x="0" textLength="59.2" lengthAdjust="spacingAndGlyphs">Cumulative</tspan> <tspan x="63.9" textLength="33.9" lengthAdjust="spacingAndGlyphs">Travel</tspan> <tspan x="100.4" textLength="25.1" lengthAdjust="spacingAndGlyphs">(<tspan font-style="italic">mm</tspan>)</tspan></text>
</g>
<text y="188" font-size="11.2" fill="#1a1a1a" stroke="#1a1a1a" stroke-width=".22"><tspan x="251.5" textLength="127.1" lengthAdjust="spacingAndGlyphs">Particle Residence Time,</tspan> <tspan x="382" font-size="12.5" font-style="italic" font-family='&quot;Liberation Serif&quot;, serif'>t</tspan><tspan x="386.8" dy="2.2" font-size="9.5" font-style="italic" font-family='&quot;Liberation Serif&quot;, serif' textLength="14" lengthAdjust="spacingAndGlyphs">res</tspan> <tspan x="406.5" dy="-2.2" textLength="11.7" lengthAdjust="spacingAndGlyphs">(<tspan font-style="italic" font-family='&quot;Liberation Serif&quot;, serif'>s</tspan>)</tspan></text>
<path d="M48.1 208V318.6M61.3 208V318.6M74.4 208V318.6M87.5 208V318.6M113.8 208V318.6M126.9 208V318.6M140.1 208V318.6M153.2 208V318.6M179.5 208V318.6M192.6 208V318.6M205.7 208V318.6M218.8 208V318.6M245.1 208V318.6M258.2 208V318.6M271.4 208V318.6M284.5 208V318.6M310.8 208V318.6M323.9 208V318.6M337 208V318.6M350.2 208V318.6M376.4 208V318.6M389.6 208V318.6M402.7 208V318.6M415.8 208V318.6M442.1 208V318.6M455.2 208V318.6M468.4 208V318.6M481.5 208V318.6M507.8 208V318.6M520.9 208V318.6M534 208V318.6" stroke="#c6c6c6" stroke-width="1" fill="none"/>
<path d="M35 208V318.6M100.7 208V318.6M166.3 208V318.6M232 208V318.6M297.6 208V318.6M363.3 208V318.6M429 208V318.6M494.6 208V318.6" stroke="#5c5c5c" stroke-width="1.3" fill="none"/>
<rect x="34.5" y="218.10" width="250" height="13.08" fill="#a6a6a6"/>
<rect x="34.5" y="231.08" width="197.5" height="13.08" fill="#00b0f0"/>
<rect x="34.5" y="244.06" width="184.3" height="13.08" fill="#0070c0"/>
<rect x="34.5" y="257.04" width="105.6" height="13.08" fill="#002060"/>
<rect x="34.5" y="270.02" width="427.3" height="13.08" fill="#ffc000"/>
<rect x="34.5" y="283.00" width="460.1" height="13.08" fill="#ed7d31"/>
<rect x="34.5" y="295.98" width="328.8" height="13.08" fill="#c00000"/>
<text x="35.5" y="337.7" font-size="10.2" text-anchor="middle" fill="#595959" stroke="#595959" stroke-width="0.22">0</text>
<text x="101" y="337.7" font-size="10.2" text-anchor="middle" fill="#595959" stroke="#595959" stroke-width="0.22">0.05</text>
<text x="166.5" y="337.7" font-size="10.2" text-anchor="middle" fill="#595959" stroke="#595959" stroke-width="0.22">0.1</text>
<text x="232.1" y="337.7" font-size="10.2" text-anchor="middle" fill="#595959" stroke="#595959" stroke-width="0.22">0.15</text>
<text x="297.6" y="337.7" font-size="10.2" text-anchor="middle" fill="#595959" stroke="#595959" stroke-width="0.22">0.2</text>
<text x="363.1" y="337.7" font-size="10.2" text-anchor="middle" fill="#595959" stroke="#595959" stroke-width="0.22">0.25</text>
<text x="428.6" y="337.7" font-size="10.2" text-anchor="middle" fill="#595959" stroke="#595959" stroke-width="0.22">0.3</text>
<text x="494.1" y="337.7" font-size="10.2" text-anchor="middle" fill="#595959" stroke="#595959" stroke-width="0.22">0.35</text>
<text x="559.7" y="337.7" font-size="10.2" text-anchor="middle" fill="#595959" stroke="#595959" stroke-width="0.22">0.4</text>
<rect x="542.3" y="199.3" width="84" height="124.8" fill="#fff" stroke="#000" stroke-width="1.2"/>
<rect x="564.5" y="205.2" width="6.4" height="6.4" fill="#a6a6a6"/>
<text x="574.2" y="212" font-size="10.4" fill="#444" textLength="29.9" lengthAdjust="spacingAndGlyphs" stroke="#444" stroke-width="0.12">Cough</text>
<rect x="564.5" y="223.1" width="6.4" height="6.4" fill="#00b0f0"/>
<text x="574.2" y="229.9" font-size="10.4" fill="#444" textLength="11.1" lengthAdjust="spacingAndGlyphs" stroke="#444" stroke-width="0.12">'ti'</text>
<rect x="564.5" y="240.9" width="6.4" height="6.4" fill="#0070c0"/>
<text x="574.2" y="247.7" font-size="10.4" fill="#444" textLength="13.6" lengthAdjust="spacingAndGlyphs" stroke="#444" stroke-width="0.12">'ta'</text>
<rect x="564.5" y="258.8" width="6.4" height="6.4" fill="#002060"/>
<text x="574.2" y="265.6" font-size="10.4" fill="#444" textLength="23.5" lengthAdjust="spacingAndGlyphs" stroke="#444" stroke-width="0.12">'taw'</text>
<rect x="564.5" y="276.7" width="6.4" height="6.4" fill="#ffc000"/>
<text x="574.2" y="283.5" font-size="10.4" fill="#444" textLength="12.1" lengthAdjust="spacingAndGlyphs" stroke="#444" stroke-width="0.12">'si'</text>
<rect x="564.5" y="294.5" width="6.4" height="6.4" fill="#ed7d31"/>
<text x="574.2" y="301.3" font-size="10.4" fill="#444" textLength="15.2" lengthAdjust="spacingAndGlyphs" stroke="#444" stroke-width="0.12">'sa'</text>
<rect x="564.5" y="312.4" width="6.4" height="6.4" fill="#c00000"/>
<text x="574.2" y="319.2" font-size="10.4" fill="#444" textLength="20.4" lengthAdjust="spacingAndGlyphs" stroke="#444" stroke-width="0.12">'ma'</text>
<text y="356.8" font-size="11.2" fill="#404040" stroke="#404040" stroke-width=".22"><tspan x="215.4" textLength="84.2" lengthAdjust="spacingAndGlyphs">Transition Time,</tspan> <tspan x="304.2" font-size="11.5" font-style="italic">t</tspan><tspan x="308.5" dy="2.3" font-size="8.6" font-style="italic" textLength="33.7" lengthAdjust="spacingAndGlyphs">transition</tspan> <tspan x="345.8" dy="-2.3">+</tspan> <tspan x="355" font-size="11.5" font-style="italic">t</tspan><tspan x="359.3" dy="2.3" font-size="8.6" font-style="italic">d</tspan> <tspan x="367.8" dy="-2.3" textLength="11.4" lengthAdjust="spacingAndGlyphs">(s)</tspan></text>
</svg>
</body></html>
